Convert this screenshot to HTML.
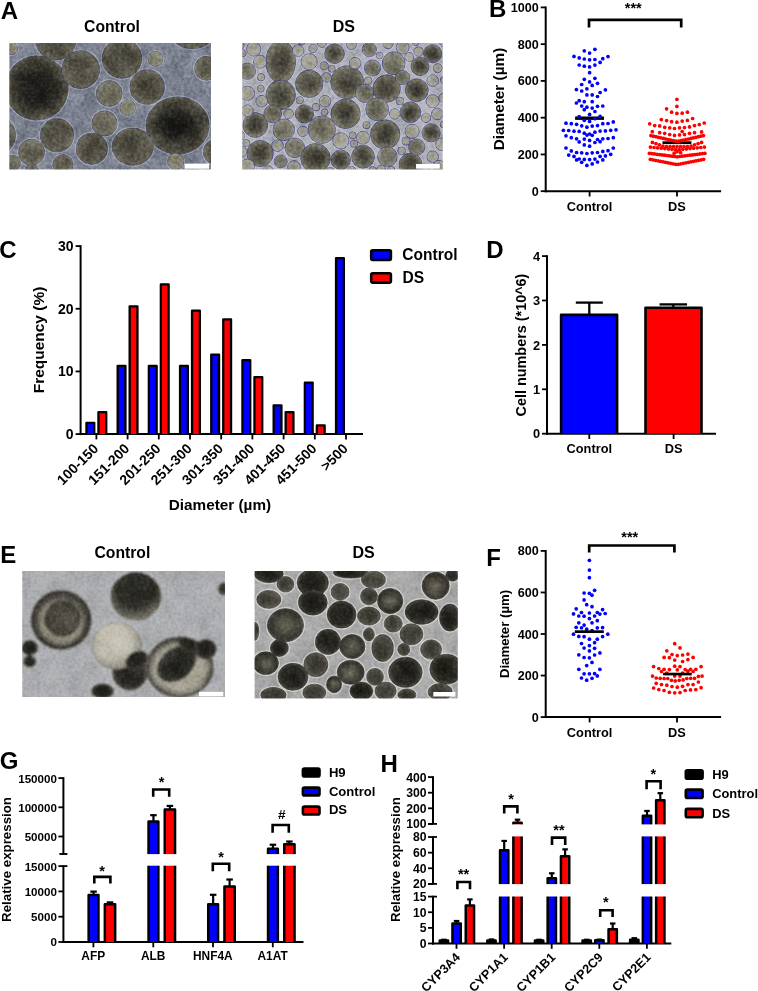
<!DOCTYPE html>
<html lang="en"><head><meta charset="utf-8"><title>Figure</title>
<style>
html,body{margin:0;padding:0;background:#fff;}
body{width:758px;height:991px;overflow:hidden;}
svg{display:block;}
text{font-family:"Liberation Sans",sans-serif;font-weight:bold;fill:#000;}
</style></head><body>
<svg width="758" height="991" viewBox="0 0 758 991">
<defs>
<filter id="soft" x="-5%" y="-5%" width="110%" height="110%"><feGaussianBlur stdDeviation="0.55"/></filter>
<filter id="soft15" x="-5%" y="-5%" width="110%" height="110%"><feGaussianBlur stdDeviation="0.75"/></filter>
<filter id="soft2" x="-5%" y="-5%" width="110%" height="110%"><feGaussianBlur stdDeviation="0.9"/></filter>
<filter id="grainL" x="0" y="0" width="100%" height="100%" color-interpolation-filters="sRGB"><feTurbulence type="fractalNoise" baseFrequency="0.32" numOctaves="3" seed="3"/><feColorMatrix type="matrix" values="1.5 0 0 0 -0.25  1.5 0 0 0 -0.25  1.5 0 0 0 -0.25  0 0 0 0 1"/></filter>
<filter id="blotch" x="0" y="0" width="100%" height="100%" color-interpolation-filters="sRGB"><feTurbulence type="fractalNoise" baseFrequency="0.06" numOctaves="2" seed="5"/><feColorMatrix type="matrix" values="1.6 0 0 0 -0.3  1.6 0 0 0 -0.3  1.6 0 0 0 -0.3  0 0 0 0 1"/></filter>
<clipPath id="cpa1"><rect x="9.3" y="43.0" width="201.7" height="126.5"/></clipPath>
<radialGradient id="g0" cx="0.5" cy="0.5" r="0.5"><stop offset="0" stop-color="#1a1917"/><stop offset="0.5" stop-color="#24231f"/><stop offset="0.8" stop-color="#403e34"/><stop offset="1" stop-color="#5e5c4e"/></radialGradient>
<radialGradient id="g1" cx="0.5" cy="0.5" r="0.5"><stop offset="0" stop-color="#45433a"/><stop offset="0.6" stop-color="#525043"/><stop offset="1" stop-color="#676557"/></radialGradient>
<radialGradient id="g2" cx="0.5" cy="0.5" r="0.5"><stop offset="0" stop-color="#5f5d4f"/><stop offset="0.7" stop-color="#6a6859"/><stop offset="1" stop-color="#7c7a6c"/></radialGradient>
<radialGradient id="g3" cx="0.5" cy="0.5" r="0.5"><stop offset="0" stop-color="#838170"/><stop offset="0.7" stop-color="#8b8977"/><stop offset="1" stop-color="#979585"/></radialGradient>
<clipPath id="cpa2"><rect x="242.2" y="43.0" width="200.6" height="126.5"/></clipPath>
<radialGradient id="g4" cx="0.5" cy="0.5" r="0.5"><stop offset="0" stop-color="#383630"/><stop offset="0.5" stop-color="#504e42"/><stop offset="1" stop-color="#807e6c"/></radialGradient>
<radialGradient id="g5" cx="0.5" cy="0.5" r="0.5"><stop offset="0" stop-color="#686657"/><stop offset="0.7" stop-color="#7a7869"/><stop offset="1" stop-color="#939181"/></radialGradient>
<radialGradient id="g6" cx="0.5" cy="0.5" r="0.5"><stop offset="0" stop-color="#9a998a"/><stop offset="0.7" stop-color="#a3a295"/><stop offset="1" stop-color="#aeada2"/></radialGradient>
<clipPath id="cpe1"><rect x="22.2" y="571.0" width="202.8" height="126.1"/></clipPath>
<radialGradient id="g7" cx="0.5" cy="0.34" r="0.7"><stop offset="0" stop-color="#24231f"/><stop offset="0.55" stop-color="#302f29"/><stop offset="0.8" stop-color="#67645a"/><stop offset="1" stop-color="#8c897d"/></radialGradient>
<radialGradient id="g8" cx="0.5" cy="0.5" r="0.5"><stop offset="0" stop-color="#4a483e"/><stop offset="0.75" stop-color="#55534a"/><stop offset="0.93" stop-color="#3a3832"/><stop offset="1" stop-color="#514f46"/></radialGradient>
<radialGradient id="g9" cx="0.5" cy="0.5" r="0.5"><stop offset="0" stop-color="#8d8a7a"/><stop offset="0.85" stop-color="#8a8778"/><stop offset="1" stop-color="#5e5b52"/></radialGradient>
<radialGradient id="g10" cx="0.5" cy="0.5" r="0.5"><stop offset="0" stop-color="#5c5a4e"/><stop offset="0.5" stop-color="#4b493f"/><stop offset="0.9" stop-color="#403e36"/><stop offset="1" stop-color="#4c4a41"/></radialGradient>
<radialGradient id="g11" cx="0.5" cy="0.5" r="0.5"><stop offset="0" stop-color="#1d1c19"/><stop offset="0.7" stop-color="#2a2924"/><stop offset="1" stop-color="#4c4a42"/></radialGradient>
<radialGradient id="g12" cx="0.45" cy="0.42" r="0.6"><stop offset="0" stop-color="#ccc9bc"/><stop offset="0.6" stop-color="#bebbad"/><stop offset="0.9" stop-color="#928f85"/><stop offset="1" stop-color="#74716a"/></radialGradient>
<radialGradient id="g13" cx="0.5" cy="0.5" r="0.5"><stop offset="0" stop-color="#1f1e1b"/><stop offset="0.75" stop-color="#2c2b26"/><stop offset="1" stop-color="#45433b"/></radialGradient>
<radialGradient id="g14" cx="0.5" cy="0.5" r="0.5"><stop offset="0" stop-color="#3a3832"/><stop offset="0.8" stop-color="#413f38"/><stop offset="1" stop-color="#5a584f"/></radialGradient>
<radialGradient id="g15" cx="0.5" cy="0.5" r="0.5"><stop offset="0" stop-color="#b3b0a1"/><stop offset="0.8" stop-color="#a3a092"/><stop offset="1" stop-color="#706d64"/></radialGradient>
<radialGradient id="g16" cx="0.5" cy="0.5" r="0.5"><stop offset="0" stop-color="#26251f"/><stop offset="0.6" stop-color="#38362e"/><stop offset="0.9" stop-color="#5b584d"/><stop offset="1" stop-color="#6d6a5f"/></radialGradient>
<clipPath id="cpe2"><rect x="254.5" y="571.0" width="203.3" height="127.5"/></clipPath>
<radialGradient id="g17" cx="0.5" cy="0.5" r="0.5"><stop offset="0" stop-color="#1b1a17"/><stop offset="0.75" stop-color="#2a2923"/><stop offset="1" stop-color="#48463d"/></radialGradient>
<radialGradient id="g18" cx="0.5" cy="0.5" r="0.5"><stop offset="0" stop-color="#36342e"/><stop offset="0.7" stop-color="#45433a"/><stop offset="1" stop-color="#605d53"/></radialGradient>
<radialGradient id="g19" cx="0.5" cy="0.5" r="0.5"><stop offset="0" stop-color="#6c6959"/><stop offset="0.4" stop-color="#525044"/><stop offset="0.85" stop-color="#38362f"/><stop offset="1" stop-color="#4a4840"/></radialGradient>
</defs>
<rect width="758" height="991" fill="#fff"/>
<text x="0.80" y="18.60" font-size="24" >A</text>
<text x="489.00" y="17.00" font-size="24" >B</text>
<text x="-0.70" y="258.10" font-size="24" >C</text>
<text x="486.20" y="258.30" font-size="24" >D</text>
<text x="0.25" y="562.90" font-size="24" >E</text>
<text x="486.20" y="565.50" font-size="24" >F</text>
<text x="-0.20" y="769.20" font-size="24" >G</text>
<text x="380.50" y="771.50" font-size="24" >H</text>
<line x1="545.70" y1="6.50" x2="545.70" y2="192.20" stroke="#000" stroke-width="2" stroke-linecap="butt"/>
<line x1="544.70" y1="191.20" x2="721.10" y2="191.20" stroke="#000" stroke-width="2" stroke-linecap="butt"/>
<line x1="540.70" y1="191.20" x2="545.70" y2="191.20" stroke="#000" stroke-width="1.8" stroke-linecap="butt"/>
<text x="538.70" y="195.70" font-size="12.6" text-anchor="end" >0</text>
<line x1="540.70" y1="154.44" x2="545.70" y2="154.44" stroke="#000" stroke-width="1.8" stroke-linecap="butt"/>
<text x="538.70" y="158.94" font-size="12.6" text-anchor="end" >200</text>
<line x1="540.70" y1="117.68" x2="545.70" y2="117.68" stroke="#000" stroke-width="1.8" stroke-linecap="butt"/>
<text x="538.70" y="122.18" font-size="12.6" text-anchor="end" >400</text>
<line x1="540.70" y1="80.92" x2="545.70" y2="80.92" stroke="#000" stroke-width="1.8" stroke-linecap="butt"/>
<text x="538.70" y="85.42" font-size="12.6" text-anchor="end" >600</text>
<line x1="540.70" y1="44.16" x2="545.70" y2="44.16" stroke="#000" stroke-width="1.8" stroke-linecap="butt"/>
<text x="538.70" y="48.66" font-size="12.6" text-anchor="end" >800</text>
<line x1="540.70" y1="7.40" x2="545.70" y2="7.40" stroke="#000" stroke-width="1.8" stroke-linecap="butt"/>
<text x="538.70" y="11.90" font-size="12.6" text-anchor="end" >1000</text>
<line x1="589.60" y1="191.20" x2="589.60" y2="196.50" stroke="#000" stroke-width="1.8" stroke-linecap="butt"/>
<text x="589.60" y="211.20" font-size="12.8" text-anchor="middle" >Control</text>
<line x1="677.00" y1="191.20" x2="677.00" y2="196.50" stroke="#000" stroke-width="1.8" stroke-linecap="butt"/>
<text x="677.00" y="211.20" font-size="12.8" text-anchor="middle" >DS</text>
<text x="503.80" y="99.00" font-size="14.4" text-anchor="middle" textLength="102.50" lengthAdjust="spacingAndGlyphs" transform="rotate(-90 503.80 99.00)" >Diameter (µm)</text>
<path d="M589.00 27.40V19.80H681.20V27.40" fill="none" stroke="#000" stroke-width="2.7" stroke-linejoin="miter"/>
<text x="633.30" y="12.90" font-size="14.5" text-anchor="middle" >***</text>
<rect x="575.10" y="116.50" width="28.90" height="3.40" fill="#000"/>
<rect x="662.50" y="141.30" width="28.90" height="2.80" fill="#000"/>
<g fill="#0000ff"><circle cx="584.3" cy="50.8" r="1.85"/><circle cx="594.9" cy="49.3" r="1.85"/><circle cx="589.6" cy="53.1" r="1.85"/><circle cx="574.0" cy="56.4" r="1.85"/><circle cx="579.2" cy="57.9" r="1.85"/><circle cx="584.3" cy="59.0" r="1.85"/><circle cx="589.6" cy="59.8" r="1.85"/><circle cx="594.9" cy="59.5" r="1.85"/><circle cx="602.8" cy="58.7" r="1.85"/><circle cx="608.0" cy="56.6" r="1.85"/><circle cx="600.1" cy="62.4" r="1.85"/><circle cx="579.2" cy="65.0" r="1.85"/><circle cx="584.3" cy="66.2" r="1.85"/><circle cx="589.6" cy="66.9" r="1.85"/><circle cx="594.9" cy="65.1" r="1.85"/><circle cx="589.6" cy="72.7" r="1.85"/><circle cx="584.3" cy="79.3" r="1.85"/><circle cx="594.9" cy="78.3" r="1.85"/><circle cx="589.6" cy="81.9" r="1.85"/><circle cx="597.5" cy="83.3" r="1.85"/><circle cx="581.7" cy="84.5" r="1.85"/><circle cx="592.2" cy="85.4" r="1.85"/><circle cx="586.9" cy="88.8" r="1.85"/><circle cx="576.4" cy="89.6" r="1.85"/><circle cx="581.7" cy="91.0" r="1.85"/><circle cx="605.4" cy="89.8" r="1.85"/><circle cx="600.1" cy="92.5" r="1.85"/><circle cx="586.9" cy="94.9" r="1.85"/><circle cx="592.2" cy="94.9" r="1.85"/><circle cx="597.5" cy="96.5" r="1.85"/><circle cx="579.2" cy="100.7" r="1.85"/><circle cx="576.4" cy="103.0" r="1.85"/><circle cx="584.3" cy="101.7" r="1.85"/><circle cx="592.2" cy="101.7" r="1.85"/><circle cx="581.7" cy="106.0" r="1.85"/><circle cx="586.9" cy="107.2" r="1.85"/><circle cx="592.2" cy="108.1" r="1.85"/><circle cx="597.5" cy="106.3" r="1.85"/><circle cx="602.8" cy="106.0" r="1.85"/><circle cx="584.3" cy="109.7" r="1.85"/><circle cx="594.9" cy="111.5" r="1.85"/><circle cx="589.6" cy="114.4" r="1.85"/><circle cx="579.2" cy="116.6" r="1.85"/><circle cx="600.1" cy="116.4" r="1.85"/><circle cx="594.9" cy="118.7" r="1.85"/><circle cx="584.3" cy="120.3" r="1.85"/><circle cx="589.6" cy="121.4" r="1.85"/><circle cx="566.0" cy="123.2" r="1.85"/><circle cx="571.3" cy="123.7" r="1.85"/><circle cx="576.6" cy="124.3" r="1.85"/><circle cx="581.7" cy="125.8" r="1.85"/><circle cx="586.9" cy="127.2" r="1.85"/><circle cx="592.2" cy="126.1" r="1.85"/><circle cx="597.5" cy="125.6" r="1.85"/><circle cx="602.8" cy="123.7" r="1.85"/><circle cx="608.0" cy="123.5" r="1.85"/><circle cx="613.3" cy="121.9" r="1.85"/><circle cx="563.4" cy="130.3" r="1.85"/><circle cx="568.7" cy="130.5" r="1.85"/><circle cx="574.0" cy="131.2" r="1.85"/><circle cx="579.2" cy="131.4" r="1.85"/><circle cx="584.3" cy="133.2" r="1.85"/><circle cx="586.9" cy="135.1" r="1.85"/><circle cx="589.6" cy="134.0" r="1.85"/><circle cx="592.2" cy="135.3" r="1.85"/><circle cx="594.9" cy="132.2" r="1.85"/><circle cx="600.1" cy="131.1" r="1.85"/><circle cx="605.4" cy="130.9" r="1.85"/><circle cx="610.7" cy="130.3" r="1.85"/><circle cx="616.0" cy="129.8" r="1.85"/><circle cx="566.0" cy="135.8" r="1.85"/><circle cx="571.3" cy="137.7" r="1.85"/><circle cx="576.6" cy="138.8" r="1.85"/><circle cx="579.2" cy="141.9" r="1.85"/><circle cx="584.3" cy="139.1" r="1.85"/><circle cx="589.6" cy="140.4" r="1.85"/><circle cx="594.9" cy="142.5" r="1.85"/><circle cx="597.5" cy="139.5" r="1.85"/><circle cx="600.1" cy="141.7" r="1.85"/><circle cx="602.8" cy="138.8" r="1.85"/><circle cx="608.0" cy="138.5" r="1.85"/><circle cx="613.3" cy="137.7" r="1.85"/><circle cx="584.3" cy="144.9" r="1.85"/><circle cx="589.6" cy="146.2" r="1.85"/><circle cx="566.0" cy="148.0" r="1.85"/><circle cx="613.3" cy="148.0" r="1.85"/><circle cx="571.3" cy="150.9" r="1.85"/><circle cx="576.6" cy="152.5" r="1.85"/><circle cx="581.7" cy="152.8" r="1.85"/><circle cx="586.9" cy="153.5" r="1.85"/><circle cx="592.2" cy="152.8" r="1.85"/><circle cx="597.5" cy="152.5" r="1.85"/><circle cx="602.8" cy="151.4" r="1.85"/><circle cx="608.0" cy="150.7" r="1.85"/><circle cx="568.7" cy="155.1" r="1.85"/><circle cx="574.0" cy="156.4" r="1.85"/><circle cx="610.7" cy="154.3" r="1.85"/><circle cx="605.4" cy="155.9" r="1.85"/><circle cx="600.1" cy="156.4" r="1.85"/><circle cx="576.6" cy="159.9" r="1.85"/><circle cx="579.2" cy="159.0" r="1.85"/><circle cx="584.3" cy="159.4" r="1.85"/><circle cx="589.6" cy="159.6" r="1.85"/><circle cx="594.9" cy="159.1" r="1.85"/><circle cx="602.8" cy="159.9" r="1.85"/><circle cx="581.7" cy="162.3" r="1.85"/><circle cx="597.5" cy="162.0" r="1.85"/><circle cx="592.2" cy="163.9" r="1.85"/><circle cx="586.9" cy="165.4" r="1.85"/></g>
<g fill="#ff0000"><circle cx="676.9" cy="99.3" r="1.85"/><circle cx="676.9" cy="106.4" r="1.85"/><circle cx="666.6" cy="108.8" r="1.85"/><circle cx="671.6" cy="112.2" r="1.85"/><circle cx="676.9" cy="113.4" r="1.85"/><circle cx="682.2" cy="113.2" r="1.85"/><circle cx="687.4" cy="112.2" r="1.85"/><circle cx="661.3" cy="119.6" r="1.85"/><circle cx="666.6" cy="120.6" r="1.85"/><circle cx="671.6" cy="121.7" r="1.85"/><circle cx="676.9" cy="122.2" r="1.85"/><circle cx="682.2" cy="121.1" r="1.85"/><circle cx="687.4" cy="120.4" r="1.85"/><circle cx="692.6" cy="118.5" r="1.85"/><circle cx="649.7" cy="123.8" r="1.85"/><circle cx="654.7" cy="125.6" r="1.85"/><circle cx="659.7" cy="125.9" r="1.85"/><circle cx="664.7" cy="127.3" r="1.85"/><circle cx="669.7" cy="127.8" r="1.85"/><circle cx="674.5" cy="128.5" r="1.85"/><circle cx="679.5" cy="127.8" r="1.85"/><circle cx="684.5" cy="127.5" r="1.85"/><circle cx="689.5" cy="126.9" r="1.85"/><circle cx="694.5" cy="125.6" r="1.85"/><circle cx="699.3" cy="124.6" r="1.85"/><circle cx="704.2" cy="123.0" r="1.85"/><circle cx="652.3" cy="131.7" r="1.85"/><circle cx="659.7" cy="132.7" r="1.85"/><circle cx="664.7" cy="133.3" r="1.85"/><circle cx="669.7" cy="134.6" r="1.85"/><circle cx="674.5" cy="135.4" r="1.85"/><circle cx="679.5" cy="134.9" r="1.85"/><circle cx="682.2" cy="131.5" r="1.85"/><circle cx="684.5" cy="134.6" r="1.85"/><circle cx="689.5" cy="133.3" r="1.85"/><circle cx="694.5" cy="132.7" r="1.85"/><circle cx="701.6" cy="131.9" r="1.85"/><circle cx="674.2" cy="153.2" r="1.85"/><circle cx="677.1" cy="151.7" r="1.85"/><circle cx="680.6" cy="152.7" r="1.85"/><circle cx="650.9" cy="135.6" r="1.85"/><circle cx="653.4" cy="136.2" r="1.85"/><circle cx="655.9" cy="136.7" r="1.85"/><circle cx="658.4" cy="137.3" r="1.85"/><circle cx="660.9" cy="137.8" r="1.85"/><circle cx="663.4" cy="138.4" r="1.85"/><circle cx="665.9" cy="139.0" r="1.85"/><circle cx="668.4" cy="139.5" r="1.85"/><circle cx="670.9" cy="140.1" r="1.85"/><circle cx="673.4" cy="140.7" r="1.85"/><circle cx="675.9" cy="141.2" r="1.85"/><circle cx="678.4" cy="141.2" r="1.85"/><circle cx="680.9" cy="140.7" r="1.85"/><circle cx="683.4" cy="140.1" r="1.85"/><circle cx="685.9" cy="139.5" r="1.85"/><circle cx="688.4" cy="139.0" r="1.85"/><circle cx="690.9" cy="138.4" r="1.85"/><circle cx="693.4" cy="137.8" r="1.85"/><circle cx="695.9" cy="137.3" r="1.85"/><circle cx="698.4" cy="136.7" r="1.85"/><circle cx="700.9" cy="136.2" r="1.85"/><circle cx="703.4" cy="135.6" r="1.85"/><circle cx="652.4" cy="142.4" r="1.85"/><circle cx="655.9" cy="143.6" r="1.85"/><circle cx="659.4" cy="144.8" r="1.85"/><circle cx="662.9" cy="146.0" r="1.85"/><circle cx="666.5" cy="146.6" r="1.85"/><circle cx="670.0" cy="146.6" r="1.85"/><circle cx="673.5" cy="146.6" r="1.85"/><circle cx="677.0" cy="146.6" r="1.85"/><circle cx="680.5" cy="146.6" r="1.85"/><circle cx="684.0" cy="146.6" r="1.85"/><circle cx="687.5" cy="146.6" r="1.85"/><circle cx="691.1" cy="146.0" r="1.85"/><circle cx="694.6" cy="144.8" r="1.85"/><circle cx="698.1" cy="143.6" r="1.85"/><circle cx="701.6" cy="142.4" r="1.85"/><circle cx="650.4" cy="147.1" r="1.85"/><circle cx="654.0" cy="147.5" r="1.85"/><circle cx="657.6" cy="147.8" r="1.85"/><circle cx="661.2" cy="148.2" r="1.85"/><circle cx="664.8" cy="148.6" r="1.85"/><circle cx="668.4" cy="149.0" r="1.85"/><circle cx="672.0" cy="149.3" r="1.85"/><circle cx="675.6" cy="149.7" r="1.85"/><circle cx="679.2" cy="149.7" r="1.85"/><circle cx="682.8" cy="149.3" r="1.85"/><circle cx="686.4" cy="149.0" r="1.85"/><circle cx="690.0" cy="148.6" r="1.85"/><circle cx="693.6" cy="148.2" r="1.85"/><circle cx="697.2" cy="147.8" r="1.85"/><circle cx="700.8" cy="147.5" r="1.85"/><circle cx="704.4" cy="147.1" r="1.85"/><circle cx="649.4" cy="153.3" r="1.85"/><circle cx="651.9" cy="153.6" r="1.85"/><circle cx="654.4" cy="153.9" r="1.85"/><circle cx="657.0" cy="154.3" r="1.85"/><circle cx="659.5" cy="154.6" r="1.85"/><circle cx="662.0" cy="154.9" r="1.85"/><circle cx="664.5" cy="155.2" r="1.85"/><circle cx="667.1" cy="155.5" r="1.85"/><circle cx="669.6" cy="155.8" r="1.85"/><circle cx="672.1" cy="156.2" r="1.85"/><circle cx="674.6" cy="156.5" r="1.85"/><circle cx="677.1" cy="156.8" r="1.85"/><circle cx="679.7" cy="156.5" r="1.85"/><circle cx="682.2" cy="156.2" r="1.85"/><circle cx="684.7" cy="155.8" r="1.85"/><circle cx="687.2" cy="155.5" r="1.85"/><circle cx="689.8" cy="155.2" r="1.85"/><circle cx="692.3" cy="154.9" r="1.85"/><circle cx="694.8" cy="154.6" r="1.85"/><circle cx="697.3" cy="154.3" r="1.85"/><circle cx="699.9" cy="153.9" r="1.85"/><circle cx="702.4" cy="153.6" r="1.85"/><circle cx="704.9" cy="153.3" r="1.85"/><circle cx="650.4" cy="159.3" r="1.85"/><circle cx="652.9" cy="159.8" r="1.85"/><circle cx="655.5" cy="160.3" r="1.85"/><circle cx="658.0" cy="160.8" r="1.85"/><circle cx="660.5" cy="161.3" r="1.85"/><circle cx="663.1" cy="161.8" r="1.85"/><circle cx="665.6" cy="162.3" r="1.85"/><circle cx="668.1" cy="162.8" r="1.85"/><circle cx="670.7" cy="163.3" r="1.85"/><circle cx="673.2" cy="163.8" r="1.85"/><circle cx="675.7" cy="164.3" r="1.85"/><circle cx="678.3" cy="164.3" r="1.85"/><circle cx="680.8" cy="163.8" r="1.85"/><circle cx="683.3" cy="163.3" r="1.85"/><circle cx="685.9" cy="162.8" r="1.85"/><circle cx="688.4" cy="162.3" r="1.85"/><circle cx="690.9" cy="161.8" r="1.85"/><circle cx="693.5" cy="161.3" r="1.85"/><circle cx="696.0" cy="160.8" r="1.85"/><circle cx="698.5" cy="160.3" r="1.85"/><circle cx="701.1" cy="159.8" r="1.85"/><circle cx="703.6" cy="159.3" r="1.85"/></g>
<line x1="80.60" y1="245.20" x2="80.60" y2="435.10" stroke="#000" stroke-width="2" stroke-linecap="butt"/>
<line x1="79.60" y1="434.10" x2="363.00" y2="434.10" stroke="#000" stroke-width="2" stroke-linecap="butt"/>
<line x1="75.60" y1="434.10" x2="80.60" y2="434.10" stroke="#000" stroke-width="1.8" stroke-linecap="butt"/>
<text x="73.60" y="439.10" font-size="14" text-anchor="end" >0</text>
<line x1="75.60" y1="371.43" x2="80.60" y2="371.43" stroke="#000" stroke-width="1.8" stroke-linecap="butt"/>
<text x="73.60" y="376.43" font-size="14" text-anchor="end" >10</text>
<line x1="75.60" y1="308.76" x2="80.60" y2="308.76" stroke="#000" stroke-width="1.8" stroke-linecap="butt"/>
<text x="73.60" y="313.76" font-size="14" text-anchor="end" >20</text>
<line x1="75.60" y1="246.09" x2="80.60" y2="246.09" stroke="#000" stroke-width="1.8" stroke-linecap="butt"/>
<text x="73.60" y="251.09" font-size="14" text-anchor="end" >30</text>
<line x1="96.40" y1="434.10" x2="96.40" y2="439.40" stroke="#000" stroke-width="1.8" stroke-linecap="butt"/>
<path d="M86.45 434.10V422.87H94.25V434.10" fill="#0000ff" stroke="#000" stroke-width="2.3" stroke-linejoin="round"/>
<path d="M98.45 434.10V412.22H106.25V434.10" fill="#ff0000" stroke="#000" stroke-width="2.3" stroke-linejoin="round"/>
<text x="99.20" y="449.40" font-size="14" text-anchor="end" transform="rotate(-45 99.20 449.40)" >100-150</text>
<line x1="127.60" y1="434.10" x2="127.60" y2="439.40" stroke="#000" stroke-width="1.8" stroke-linecap="butt"/>
<path d="M117.65 434.10V365.84H125.45V434.10" fill="#0000ff" stroke="#000" stroke-width="2.3" stroke-linejoin="round"/>
<path d="M129.65 434.10V306.30H137.45V434.10" fill="#ff0000" stroke="#000" stroke-width="2.3" stroke-linejoin="round"/>
<text x="130.40" y="449.40" font-size="14" text-anchor="end" transform="rotate(-45 130.40 449.40)" >151-200</text>
<line x1="158.80" y1="434.10" x2="158.80" y2="439.40" stroke="#000" stroke-width="1.8" stroke-linecap="butt"/>
<path d="M148.85 434.10V365.84H156.65V434.10" fill="#0000ff" stroke="#000" stroke-width="2.3" stroke-linejoin="round"/>
<path d="M160.85 434.10V284.37H168.65V434.10" fill="#ff0000" stroke="#000" stroke-width="2.3" stroke-linejoin="round"/>
<text x="161.60" y="449.40" font-size="14" text-anchor="end" transform="rotate(-45 161.60 449.40)" >201-250</text>
<line x1="190.00" y1="434.10" x2="190.00" y2="439.40" stroke="#000" stroke-width="1.8" stroke-linecap="butt"/>
<path d="M180.05 434.10V365.84H187.85V434.10" fill="#0000ff" stroke="#000" stroke-width="2.3" stroke-linejoin="round"/>
<path d="M192.05 434.10V310.69H199.85V434.10" fill="#ff0000" stroke="#000" stroke-width="2.3" stroke-linejoin="round"/>
<text x="192.80" y="449.40" font-size="14" text-anchor="end" transform="rotate(-45 192.80 449.40)" >251-300</text>
<line x1="221.20" y1="434.10" x2="221.20" y2="439.40" stroke="#000" stroke-width="1.8" stroke-linecap="butt"/>
<path d="M211.25 434.10V354.56H219.05V434.10" fill="#0000ff" stroke="#000" stroke-width="2.3" stroke-linejoin="round"/>
<path d="M223.25 434.10V319.46H231.05V434.10" fill="#ff0000" stroke="#000" stroke-width="2.3" stroke-linejoin="round"/>
<text x="224.00" y="449.40" font-size="14" text-anchor="end" transform="rotate(-45 224.00 449.40)" >301-350</text>
<line x1="252.40" y1="434.10" x2="252.40" y2="439.40" stroke="#000" stroke-width="1.8" stroke-linecap="butt"/>
<path d="M242.45 434.10V360.20H250.25V434.10" fill="#0000ff" stroke="#000" stroke-width="2.3" stroke-linejoin="round"/>
<path d="M254.45 434.10V377.12H262.25V434.10" fill="#ff0000" stroke="#000" stroke-width="2.3" stroke-linejoin="round"/>
<text x="255.20" y="449.40" font-size="14" text-anchor="end" transform="rotate(-45 255.20 449.40)" >351-400</text>
<line x1="283.60" y1="434.10" x2="283.60" y2="439.40" stroke="#000" stroke-width="1.8" stroke-linecap="butt"/>
<path d="M273.65 434.10V405.32H281.45V434.10" fill="#0000ff" stroke="#000" stroke-width="2.3" stroke-linejoin="round"/>
<path d="M285.65 434.10V412.22H293.45V434.10" fill="#ff0000" stroke="#000" stroke-width="2.3" stroke-linejoin="round"/>
<text x="286.40" y="449.40" font-size="14" text-anchor="end" transform="rotate(-45 286.40 449.40)" >401-450</text>
<line x1="314.80" y1="434.10" x2="314.80" y2="439.40" stroke="#000" stroke-width="1.8" stroke-linecap="butt"/>
<path d="M304.85 434.10V382.76H312.65V434.10" fill="#0000ff" stroke="#000" stroke-width="2.3" stroke-linejoin="round"/>
<path d="M316.85 434.10V425.38H324.65V434.10" fill="#ff0000" stroke="#000" stroke-width="2.3" stroke-linejoin="round"/>
<text x="317.60" y="449.40" font-size="14" text-anchor="end" transform="rotate(-45 317.60 449.40)" >451-500</text>
<line x1="346.00" y1="434.10" x2="346.00" y2="439.40" stroke="#000" stroke-width="1.8" stroke-linecap="butt"/>
<path d="M336.05 434.10V258.05H343.85V434.10" fill="#0000ff" stroke="#000" stroke-width="2.3" stroke-linejoin="round"/>
<text x="348.80" y="449.40" font-size="14" text-anchor="end" transform="rotate(-45 348.80 449.40)" >&gt;500</text>
<text x="44.30" y="340.00" font-size="14.8" text-anchor="middle" textLength="106.60" lengthAdjust="spacingAndGlyphs" transform="rotate(-90 44.30 340.00)" >Frequency (%)</text>
<text x="168.80" y="510.10" font-size="14.4" textLength="102.30" lengthAdjust="spacingAndGlyphs" >Diameter (µm)</text>
<rect x="371.20" y="250.30" width="19.70" height="9.70" fill="#0000ff" stroke="#000" stroke-width="2.6" rx="1.5"/>
<rect x="371.20" y="273.30" width="19.70" height="9.30" fill="#ff0000" stroke="#000" stroke-width="2.6" rx="1.5"/>
<text x="402.30" y="260.30" font-size="15.6" textLength="55.20" lengthAdjust="spacingAndGlyphs" >Control</text>
<text x="402.50" y="282.80" font-size="15.6" >DS</text>
<line x1="547.00" y1="255.20" x2="547.00" y2="434.70" stroke="#000" stroke-width="2" stroke-linecap="butt"/>
<line x1="546.00" y1="433.70" x2="716.00" y2="433.70" stroke="#000" stroke-width="2" stroke-linecap="butt"/>
<line x1="542.00" y1="433.70" x2="547.00" y2="433.70" stroke="#000" stroke-width="1.8" stroke-linecap="butt"/>
<text x="540.00" y="438.30" font-size="12.8" text-anchor="end" >0</text>
<line x1="542.00" y1="389.30" x2="547.00" y2="389.30" stroke="#000" stroke-width="1.8" stroke-linecap="butt"/>
<text x="540.00" y="393.90" font-size="12.8" text-anchor="end" >1</text>
<line x1="542.00" y1="344.90" x2="547.00" y2="344.90" stroke="#000" stroke-width="1.8" stroke-linecap="butt"/>
<text x="540.00" y="349.50" font-size="12.8" text-anchor="end" >2</text>
<line x1="542.00" y1="300.50" x2="547.00" y2="300.50" stroke="#000" stroke-width="1.8" stroke-linecap="butt"/>
<text x="540.00" y="305.10" font-size="12.8" text-anchor="end" >3</text>
<line x1="542.00" y1="256.10" x2="547.00" y2="256.10" stroke="#000" stroke-width="1.8" stroke-linecap="butt"/>
<text x="540.00" y="260.70" font-size="12.8" text-anchor="end" >4</text>
<line x1="589.30" y1="302.60" x2="589.30" y2="316.00" stroke="#000" stroke-width="2.3" stroke-linecap="butt"/>
<line x1="575.80" y1="302.60" x2="602.80" y2="302.60" stroke="#000" stroke-width="2.3" stroke-linecap="butt"/>
<path d="M561.10 433.70V314.90H617.10V433.70" fill="#0000ff" stroke="#000" stroke-width="2.6" stroke-linejoin="round"/>
<line x1="673.30" y1="304.40" x2="673.30" y2="309.00" stroke="#000" stroke-width="2.3" stroke-linecap="butt"/>
<line x1="659.55" y1="304.40" x2="687.05" y2="304.40" stroke="#000" stroke-width="2.3" stroke-linecap="butt"/>
<path d="M645.50 433.70V307.70H701.50V433.70" fill="#ff0000" stroke="#000" stroke-width="2.6" stroke-linejoin="round"/>
<line x1="589.30" y1="433.70" x2="589.30" y2="439.00" stroke="#000" stroke-width="1.8" stroke-linecap="butt"/>
<text x="589.30" y="453.20" font-size="12.8" text-anchor="middle" >Control</text>
<line x1="673.60" y1="433.70" x2="673.60" y2="439.00" stroke="#000" stroke-width="1.8" stroke-linecap="butt"/>
<text x="673.60" y="453.20" font-size="12.8" text-anchor="middle" >DS</text>
<text x="525.80" y="345.00" font-size="14.4" text-anchor="middle" transform="rotate(-90 525.80 345.00)" >Cell numbers (*10^6)</text>
<line x1="545.70" y1="550.00" x2="545.70" y2="718.10" stroke="#000" stroke-width="2" stroke-linecap="butt"/>
<line x1="544.70" y1="717.10" x2="721.10" y2="717.10" stroke="#000" stroke-width="2" stroke-linecap="butt"/>
<line x1="540.70" y1="717.10" x2="545.70" y2="717.10" stroke="#000" stroke-width="1.8" stroke-linecap="butt"/>
<text x="538.70" y="721.60" font-size="12.6" text-anchor="end" >0</text>
<line x1="540.70" y1="675.55" x2="545.70" y2="675.55" stroke="#000" stroke-width="1.8" stroke-linecap="butt"/>
<text x="538.70" y="680.05" font-size="12.6" text-anchor="end" >200</text>
<line x1="540.70" y1="634.00" x2="545.70" y2="634.00" stroke="#000" stroke-width="1.8" stroke-linecap="butt"/>
<text x="538.70" y="638.50" font-size="12.6" text-anchor="end" >400</text>
<line x1="540.70" y1="592.45" x2="545.70" y2="592.45" stroke="#000" stroke-width="1.8" stroke-linecap="butt"/>
<text x="538.70" y="596.95" font-size="12.6" text-anchor="end" >600</text>
<line x1="540.70" y1="550.90" x2="545.70" y2="550.90" stroke="#000" stroke-width="1.8" stroke-linecap="butt"/>
<text x="538.70" y="555.40" font-size="12.6" text-anchor="end" >800</text>
<line x1="589.60" y1="717.10" x2="589.60" y2="722.40" stroke="#000" stroke-width="1.8" stroke-linecap="butt"/>
<text x="589.60" y="737.00" font-size="12.8" text-anchor="middle" >Control</text>
<line x1="677.00" y1="717.10" x2="677.00" y2="722.40" stroke="#000" stroke-width="1.8" stroke-linecap="butt"/>
<text x="677.00" y="737.00" font-size="12.8" text-anchor="middle" >DS</text>
<text x="508.50" y="634.00" font-size="13.2" text-anchor="middle" transform="rotate(-90 508.50 634.00)" >Diameter (µm)</text>
<path d="M589.20 552.40V545.50H674.40V552.40" fill="none" stroke="#000" stroke-width="2.7" stroke-linejoin="miter"/>
<text x="629.80" y="541.60" font-size="14.5" text-anchor="middle" >***</text>
<g fill="#0000ff"><circle cx="589.4" cy="560.3" r="1.85"/><circle cx="589.4" cy="570.1" r="1.85"/><circle cx="589.4" cy="577.7" r="1.85"/><circle cx="594.6" cy="590.3" r="1.85"/><circle cx="584.1" cy="593.0" r="1.85"/><circle cx="589.4" cy="593.3" r="1.85"/><circle cx="592.0" cy="595.2" r="1.85"/><circle cx="584.1" cy="599.9" r="1.85"/><circle cx="586.7" cy="604.7" r="1.85"/><circle cx="592.0" cy="606.7" r="1.85"/><circle cx="576.2" cy="608.8" r="1.85"/><circle cx="602.6" cy="609.6" r="1.85"/><circle cx="581.5" cy="612.5" r="1.85"/><circle cx="589.4" cy="613.0" r="1.85"/><circle cx="597.3" cy="612.5" r="1.85"/><circle cx="599.9" cy="614.1" r="1.85"/><circle cx="573.5" cy="613.9" r="1.85"/><circle cx="605.2" cy="613.5" r="1.85"/><circle cx="578.8" cy="616.0" r="1.85"/><circle cx="584.1" cy="616.2" r="1.85"/><circle cx="594.6" cy="616.0" r="1.85"/><circle cx="589.4" cy="618.6" r="1.85"/><circle cx="597.3" cy="620.7" r="1.85"/><circle cx="578.8" cy="622.8" r="1.85"/><circle cx="592.0" cy="622.8" r="1.85"/><circle cx="584.1" cy="625.1" r="1.85"/><circle cx="576.2" cy="627.3" r="1.85"/><circle cx="581.5" cy="627.8" r="1.85"/><circle cx="586.7" cy="629.2" r="1.85"/><circle cx="597.3" cy="627.8" r="1.85"/><circle cx="602.6" cy="627.6" r="1.85"/><circle cx="592.0" cy="630.6" r="1.85"/><circle cx="573.5" cy="634.2" r="1.85"/><circle cx="607.8" cy="634.2" r="1.85"/><circle cx="578.8" cy="636.4" r="1.85"/><circle cx="584.1" cy="636.7" r="1.85"/><circle cx="602.6" cy="636.6" r="1.85"/><circle cx="589.4" cy="639.2" r="1.85"/><circle cx="597.3" cy="639.2" r="1.85"/><circle cx="581.5" cy="643.5" r="1.85"/><circle cx="594.6" cy="642.7" r="1.85"/><circle cx="589.4" cy="645.6" r="1.85"/><circle cx="584.1" cy="648.0" r="1.85"/><circle cx="594.6" cy="648.3" r="1.85"/><circle cx="589.4" cy="650.9" r="1.85"/><circle cx="599.9" cy="652.9" r="1.85"/><circle cx="578.8" cy="654.8" r="1.85"/><circle cx="594.6" cy="655.0" r="1.85"/><circle cx="584.1" cy="657.5" r="1.85"/><circle cx="589.4" cy="657.8" r="1.85"/><circle cx="592.0" cy="662.4" r="1.85"/><circle cx="586.7" cy="665.6" r="1.85"/><circle cx="578.8" cy="669.3" r="1.85"/><circle cx="599.9" cy="669.3" r="1.85"/><circle cx="584.1" cy="673.8" r="1.85"/><circle cx="589.4" cy="673.8" r="1.85"/><circle cx="594.6" cy="673.6" r="1.85"/><circle cx="597.3" cy="675.9" r="1.85"/><circle cx="581.5" cy="678.0" r="1.85"/><circle cx="592.0" cy="678.3" r="1.85"/><circle cx="586.7" cy="680.2" r="1.85"/></g>
<g fill="#ff0000"><circle cx="674.7" cy="643.7" r="1.85"/><circle cx="680.0" cy="647.9" r="1.85"/><circle cx="666.8" cy="650.8" r="1.85"/><circle cx="672.0" cy="654.5" r="1.85"/><circle cx="677.3" cy="655.6" r="1.85"/><circle cx="682.6" cy="655.0" r="1.85"/><circle cx="687.9" cy="654.1" r="1.85"/><circle cx="664.1" cy="657.4" r="1.85"/><circle cx="669.4" cy="657.7" r="1.85"/><circle cx="693.1" cy="657.4" r="1.85"/><circle cx="674.7" cy="660.1" r="1.85"/><circle cx="682.6" cy="661.5" r="1.85"/><circle cx="687.9" cy="659.6" r="1.85"/><circle cx="653.6" cy="666.6" r="1.85"/><circle cx="701.1" cy="666.6" r="1.85"/><circle cx="674.7" cy="666.2" r="1.85"/><circle cx="680.0" cy="666.6" r="1.85"/><circle cx="658.8" cy="668.5" r="1.85"/><circle cx="664.1" cy="669.3" r="1.85"/><circle cx="669.4" cy="669.6" r="1.85"/><circle cx="677.3" cy="669.8" r="1.85"/><circle cx="685.2" cy="669.6" r="1.85"/><circle cx="690.5" cy="669.3" r="1.85"/><circle cx="695.8" cy="669.3" r="1.85"/><circle cx="661.5" cy="671.5" r="1.85"/><circle cx="666.8" cy="673.0" r="1.85"/><circle cx="687.9" cy="671.2" r="1.85"/><circle cx="693.1" cy="671.5" r="1.85"/><circle cx="682.6" cy="673.0" r="1.85"/><circle cx="652.5" cy="676.1" r="1.85"/><circle cx="702.1" cy="676.1" r="1.85"/><circle cx="698.4" cy="676.4" r="1.85"/><circle cx="656.2" cy="678.0" r="1.85"/><circle cx="660.2" cy="678.3" r="1.85"/><circle cx="664.1" cy="678.5" r="1.85"/><circle cx="667.8" cy="678.5" r="1.85"/><circle cx="671.5" cy="680.3" r="1.85"/><circle cx="675.2" cy="680.9" r="1.85"/><circle cx="679.2" cy="680.3" r="1.85"/><circle cx="683.1" cy="679.9" r="1.85"/><circle cx="686.8" cy="678.5" r="1.85"/><circle cx="690.7" cy="678.3" r="1.85"/><circle cx="694.5" cy="678.3" r="1.85"/><circle cx="674.7" cy="676.1" r="1.85"/><circle cx="680.0" cy="676.1" r="1.85"/><circle cx="656.2" cy="683.3" r="1.85"/><circle cx="661.5" cy="684.6" r="1.85"/><circle cx="666.8" cy="685.2" r="1.85"/><circle cx="672.0" cy="686.5" r="1.85"/><circle cx="677.3" cy="687.2" r="1.85"/><circle cx="682.6" cy="686.3" r="1.85"/><circle cx="687.9" cy="684.6" r="1.85"/><circle cx="693.1" cy="684.6" r="1.85"/><circle cx="698.4" cy="682.0" r="1.85"/><circle cx="653.6" cy="688.0" r="1.85"/><circle cx="658.8" cy="689.6" r="1.85"/><circle cx="664.1" cy="690.5" r="1.85"/><circle cx="669.4" cy="692.3" r="1.85"/><circle cx="674.7" cy="692.8" r="1.85"/><circle cx="680.0" cy="692.6" r="1.85"/><circle cx="685.2" cy="690.5" r="1.85"/><circle cx="690.5" cy="689.9" r="1.85"/><circle cx="695.8" cy="689.6" r="1.85"/><circle cx="701.1" cy="687.7" r="1.85"/></g>
<rect x="574.80" y="630.30" width="29.00" height="2.70" fill="#000"/>
<rect x="663.10" y="672.70" width="28.60" height="2.70" fill="#000"/>
<line x1="63.40" y1="777.20" x2="63.40" y2="854.00" stroke="#000" stroke-width="2" stroke-linecap="butt"/>
<line x1="63.40" y1="865.20" x2="63.40" y2="943.00" stroke="#000" stroke-width="2" stroke-linecap="butt"/>
<line x1="59.40" y1="854.00" x2="67.40" y2="854.00" stroke="#000" stroke-width="1.9" stroke-linecap="butt"/>
<line x1="63.40" y1="866.10" x2="67.40" y2="866.10" stroke="#000" stroke-width="1.8" stroke-linecap="butt"/>
<line x1="62.40" y1="942.00" x2="303.50" y2="942.00" stroke="#000" stroke-width="2" stroke-linecap="butt"/>
<line x1="58.40" y1="942.00" x2="63.40" y2="942.00" stroke="#000" stroke-width="1.8" stroke-linecap="butt"/>
<text x="56.90" y="946.40" font-size="11.6" text-anchor="end" >0</text>
<line x1="58.40" y1="916.70" x2="63.40" y2="916.70" stroke="#000" stroke-width="1.8" stroke-linecap="butt"/>
<text x="56.90" y="921.10" font-size="11.6" text-anchor="end" >5000</text>
<line x1="58.40" y1="891.40" x2="63.40" y2="891.40" stroke="#000" stroke-width="1.8" stroke-linecap="butt"/>
<text x="56.90" y="895.80" font-size="11.6" text-anchor="end" >10000</text>
<line x1="58.40" y1="866.10" x2="63.40" y2="866.10" stroke="#000" stroke-width="1.8" stroke-linecap="butt"/>
<text x="56.90" y="870.50" font-size="11.6" text-anchor="end" >15000</text>
<line x1="58.40" y1="836.50" x2="63.40" y2="836.50" stroke="#000" stroke-width="1.8" stroke-linecap="butt"/>
<text x="56.90" y="840.90" font-size="11.6" text-anchor="end" >50000</text>
<line x1="58.40" y1="807.30" x2="63.40" y2="807.30" stroke="#000" stroke-width="1.8" stroke-linecap="butt"/>
<text x="56.90" y="811.70" font-size="11.6" text-anchor="end" >100000</text>
<line x1="58.40" y1="778.10" x2="63.40" y2="778.10" stroke="#000" stroke-width="1.8" stroke-linecap="butt"/>
<text x="56.90" y="782.50" font-size="11.6" text-anchor="end" >150000</text>
<text x="10.80" y="859.50" font-size="13.3" text-anchor="middle" transform="rotate(-90 10.80 859.50)" >Relative expression</text>
<line x1="93.40" y1="942.00" x2="93.40" y2="947.30" stroke="#000" stroke-width="1.8" stroke-linecap="butt"/>
<line x1="93.55" y1="891.60" x2="93.55" y2="896.90" stroke="#000" stroke-width="2.2" stroke-linecap="butt"/>
<line x1="90.30" y1="891.60" x2="96.80" y2="891.60" stroke="#000" stroke-width="2.2" stroke-linecap="butt"/>
<path d="M88.65 942.00V894.95H98.45V942.00" fill="#0000ff" stroke="#000" stroke-width="2.5" stroke-linejoin="round"/>
<line x1="110.00" y1="902.38" x2="110.00" y2="906.20" stroke="#000" stroke-width="2.2" stroke-linecap="butt"/>
<line x1="106.75" y1="902.38" x2="113.25" y2="902.38" stroke="#000" stroke-width="2.2" stroke-linecap="butt"/>
<path d="M104.85 942.00V904.25H115.15V942.00" fill="#ff0000" stroke="#000" stroke-width="2.5" stroke-linejoin="round"/>
<text x="93.20" y="959.50" font-size="11.9" text-anchor="middle" >AFP</text>
<line x1="153.30" y1="942.00" x2="153.30" y2="947.30" stroke="#000" stroke-width="1.8" stroke-linecap="butt"/>
<line x1="153.45" y1="815.18" x2="153.45" y2="823.40" stroke="#000" stroke-width="2.2" stroke-linecap="butt"/>
<line x1="150.20" y1="815.18" x2="156.70" y2="815.18" stroke="#000" stroke-width="2.2" stroke-linecap="butt"/>
<path d="M148.55 942.00V821.45H158.35V942.00" fill="#0000ff" stroke="#000" stroke-width="2.5" stroke-linejoin="round"/>
<line x1="169.90" y1="805.90" x2="169.90" y2="811.40" stroke="#000" stroke-width="2.2" stroke-linecap="butt"/>
<line x1="166.65" y1="805.90" x2="173.15" y2="805.90" stroke="#000" stroke-width="2.2" stroke-linecap="butt"/>
<path d="M164.75 942.00V809.45H175.05V942.00" fill="#ff0000" stroke="#000" stroke-width="2.5" stroke-linejoin="round"/>
<text x="153.10" y="959.50" font-size="11.9" text-anchor="middle" >ALB</text>
<line x1="213.00" y1="942.00" x2="213.00" y2="947.30" stroke="#000" stroke-width="1.8" stroke-linecap="butt"/>
<line x1="213.15" y1="894.79" x2="213.15" y2="906.10" stroke="#000" stroke-width="2.2" stroke-linecap="butt"/>
<line x1="209.90" y1="894.79" x2="216.40" y2="894.79" stroke="#000" stroke-width="2.2" stroke-linecap="butt"/>
<path d="M208.25 942.00V904.15H218.05V942.00" fill="#0000ff" stroke="#000" stroke-width="2.5" stroke-linejoin="round"/>
<line x1="229.60" y1="879.51" x2="229.60" y2="888.39" stroke="#000" stroke-width="2.2" stroke-linecap="butt"/>
<line x1="226.35" y1="879.51" x2="232.85" y2="879.51" stroke="#000" stroke-width="2.2" stroke-linecap="butt"/>
<path d="M224.45 942.00V886.44H234.75V942.00" fill="#ff0000" stroke="#000" stroke-width="2.5" stroke-linejoin="round"/>
<text x="212.80" y="959.50" font-size="11.9" text-anchor="middle" >HNF4A</text>
<line x1="272.80" y1="942.00" x2="272.80" y2="947.30" stroke="#000" stroke-width="1.8" stroke-linecap="butt"/>
<line x1="272.95" y1="844.73" x2="272.95" y2="850.71" stroke="#000" stroke-width="2.2" stroke-linecap="butt"/>
<line x1="269.70" y1="844.73" x2="276.20" y2="844.73" stroke="#000" stroke-width="2.2" stroke-linecap="butt"/>
<path d="M268.05 942.00V848.76H277.85V942.00" fill="#0000ff" stroke="#000" stroke-width="2.5" stroke-linejoin="round"/>
<line x1="289.40" y1="841.52" x2="289.40" y2="846.21" stroke="#000" stroke-width="2.2" stroke-linecap="butt"/>
<line x1="286.15" y1="841.52" x2="292.65" y2="841.52" stroke="#000" stroke-width="2.2" stroke-linecap="butt"/>
<path d="M284.25 942.00V844.26H294.55V942.00" fill="#ff0000" stroke="#000" stroke-width="2.5" stroke-linejoin="round"/>
<text x="272.60" y="959.50" font-size="11.9" text-anchor="middle" >A1AT</text>
<rect x="70.00" y="854.10" width="240.00" height="11.60" fill="#fff"/>
<path d="M94.30 883.60V876.90H110.40V883.60" fill="none" stroke="#000" stroke-width="2.6" stroke-linejoin="miter"/>
<text x="102.20" y="875.80" font-size="14.5" text-anchor="middle" >*</text>
<path d="M153.20 796.70V789.50H169.20V796.70" fill="none" stroke="#000" stroke-width="2.6" stroke-linejoin="miter"/>
<text x="161.50" y="787.00" font-size="14.5" text-anchor="middle" >*</text>
<path d="M212.80 871.20V863.80H229.20V871.20" fill="none" stroke="#000" stroke-width="2.6" stroke-linejoin="miter"/>
<text x="221.00" y="862.20" font-size="14.5" text-anchor="middle" >*</text>
<path d="M272.60 832.80V825.00H288.80V832.80" fill="none" stroke="#000" stroke-width="2.6" stroke-linejoin="miter"/>
<text x="281.80" y="819.00" font-size="13.6" text-anchor="middle" >#</text>
<rect x="302.90" y="768.60" width="16.60" height="7.80" fill="#000" stroke="#000" stroke-width="2.6" rx="1.5"/>
<text x="328.90" y="776.80" font-size="13.1" >H9</text>
<rect x="302.90" y="787.60" width="16.60" height="7.80" fill="#0000ff" stroke="#000" stroke-width="2.6" rx="1.5"/>
<text x="328.90" y="795.50" font-size="13.1" >Control</text>
<rect x="302.90" y="806.60" width="16.60" height="7.80" fill="#ff0000" stroke="#000" stroke-width="2.6" rx="1.5"/>
<text x="328.90" y="814.20" font-size="13.1" >DS</text>
<line x1="433.00" y1="776.20" x2="433.00" y2="824.20" stroke="#000" stroke-width="2" stroke-linecap="butt"/>
<line x1="433.00" y1="836.20" x2="433.00" y2="884.20" stroke="#000" stroke-width="2" stroke-linecap="butt"/>
<line x1="433.00" y1="895.80" x2="433.00" y2="944.50" stroke="#000" stroke-width="2" stroke-linecap="butt"/>
<line x1="428.00" y1="823.90" x2="437.00" y2="823.90" stroke="#000" stroke-width="1.8" stroke-linecap="butt"/>
<line x1="428.00" y1="883.90" x2="437.00" y2="883.90" stroke="#000" stroke-width="1.8" stroke-linecap="butt"/>
<line x1="433.00" y1="837.01" x2="437.00" y2="837.01" stroke="#000" stroke-width="1.8" stroke-linecap="butt"/>
<line x1="433.00" y1="896.61" x2="437.00" y2="896.61" stroke="#000" stroke-width="1.8" stroke-linecap="butt"/>
<line x1="432.00" y1="943.50" x2="671.30" y2="943.50" stroke="#000" stroke-width="2" stroke-linecap="butt"/>
<line x1="428.00" y1="943.50" x2="433.00" y2="943.50" stroke="#000" stroke-width="1.8" stroke-linecap="butt"/>
<text x="426.50" y="947.90" font-size="12.2" text-anchor="end" >0</text>
<line x1="428.00" y1="927.87" x2="433.00" y2="927.87" stroke="#000" stroke-width="1.8" stroke-linecap="butt"/>
<text x="426.50" y="932.27" font-size="12.2" text-anchor="end" >5</text>
<line x1="428.00" y1="912.24" x2="433.00" y2="912.24" stroke="#000" stroke-width="1.8" stroke-linecap="butt"/>
<text x="426.50" y="916.64" font-size="12.2" text-anchor="end" >10</text>
<line x1="428.00" y1="896.61" x2="433.00" y2="896.61" stroke="#000" stroke-width="1.8" stroke-linecap="butt"/>
<text x="426.50" y="901.01" font-size="12.2" text-anchor="end" >15</text>
<line x1="428.00" y1="883.90" x2="433.00" y2="883.90" stroke="#000" stroke-width="1.8" stroke-linecap="butt"/>
<text x="426.50" y="888.30" font-size="12.2" text-anchor="end" >20</text>
<line x1="428.00" y1="868.27" x2="433.00" y2="868.27" stroke="#000" stroke-width="1.8" stroke-linecap="butt"/>
<text x="426.50" y="872.67" font-size="12.2" text-anchor="end" >40</text>
<line x1="428.00" y1="852.64" x2="433.00" y2="852.64" stroke="#000" stroke-width="1.8" stroke-linecap="butt"/>
<text x="426.50" y="857.04" font-size="12.2" text-anchor="end" >60</text>
<line x1="428.00" y1="837.01" x2="433.00" y2="837.01" stroke="#000" stroke-width="1.8" stroke-linecap="butt"/>
<text x="426.50" y="841.41" font-size="12.2" text-anchor="end" >80</text>
<line x1="428.00" y1="823.90" x2="433.00" y2="823.90" stroke="#000" stroke-width="1.8" stroke-linecap="butt"/>
<text x="426.50" y="828.30" font-size="12.2" text-anchor="end" >100</text>
<line x1="428.00" y1="808.30" x2="433.00" y2="808.30" stroke="#000" stroke-width="1.8" stroke-linecap="butt"/>
<text x="426.50" y="812.70" font-size="12.2" text-anchor="end" >200</text>
<line x1="428.00" y1="792.70" x2="433.00" y2="792.70" stroke="#000" stroke-width="1.8" stroke-linecap="butt"/>
<text x="426.50" y="797.10" font-size="12.2" text-anchor="end" >300</text>
<line x1="428.00" y1="777.10" x2="433.00" y2="777.10" stroke="#000" stroke-width="1.8" stroke-linecap="butt"/>
<text x="426.50" y="781.50" font-size="12.2" text-anchor="end" >400</text>
<text x="399.80" y="859.50" font-size="13.3" text-anchor="middle" transform="rotate(-90 399.80 859.50)" >Relative expression</text>
<line x1="456.50" y1="943.50" x2="456.50" y2="948.80" stroke="#000" stroke-width="1.8" stroke-linecap="butt"/>
<line x1="443.90" y1="939.75" x2="443.90" y2="942.37" stroke="#000" stroke-width="2.2" stroke-linecap="butt"/>
<line x1="441.15" y1="939.75" x2="446.65" y2="939.75" stroke="#000" stroke-width="2.2" stroke-linecap="butt"/>
<path d="M439.75 943.50V940.42H448.05V943.50" fill="#000" stroke="#000" stroke-width="2.5" stroke-linejoin="round"/>
<line x1="456.60" y1="920.99" x2="456.60" y2="925.49" stroke="#000" stroke-width="2.2" stroke-linecap="butt"/>
<line x1="453.85" y1="920.99" x2="459.35" y2="920.99" stroke="#000" stroke-width="2.2" stroke-linecap="butt"/>
<path d="M452.45 943.50V923.54H460.75V943.50" fill="#0000ff" stroke="#000" stroke-width="2.5" stroke-linejoin="round"/>
<line x1="469.90" y1="899.42" x2="469.90" y2="907.36" stroke="#000" stroke-width="2.2" stroke-linecap="butt"/>
<line x1="467.15" y1="899.42" x2="472.65" y2="899.42" stroke="#000" stroke-width="2.2" stroke-linecap="butt"/>
<path d="M465.75 943.50V905.41H474.05V943.50" fill="#ff0000" stroke="#000" stroke-width="2.5" stroke-linejoin="round"/>
<text x="461.00" y="958.00" font-size="12.6" text-anchor="end" transform="rotate(-45 461.00 958.00)" >CYP3A4</text>
<line x1="504.10" y1="943.50" x2="504.10" y2="948.80" stroke="#000" stroke-width="1.8" stroke-linecap="butt"/>
<line x1="491.50" y1="939.44" x2="491.50" y2="942.37" stroke="#000" stroke-width="2.2" stroke-linecap="butt"/>
<line x1="488.75" y1="939.44" x2="494.25" y2="939.44" stroke="#000" stroke-width="2.2" stroke-linecap="butt"/>
<path d="M487.35 943.50V940.42H495.65V943.50" fill="#000" stroke="#000" stroke-width="2.5" stroke-linejoin="round"/>
<line x1="504.20" y1="840.92" x2="504.20" y2="852.14" stroke="#000" stroke-width="2.2" stroke-linecap="butt"/>
<line x1="501.45" y1="840.92" x2="506.95" y2="840.92" stroke="#000" stroke-width="2.2" stroke-linecap="butt"/>
<path d="M500.05 943.50V850.19H508.35V943.50" fill="#0000ff" stroke="#000" stroke-width="2.5" stroke-linejoin="round"/>
<line x1="517.50" y1="819.69" x2="517.50" y2="824.65" stroke="#000" stroke-width="2.2" stroke-linecap="butt"/>
<line x1="514.75" y1="819.69" x2="520.25" y2="819.69" stroke="#000" stroke-width="2.2" stroke-linecap="butt"/>
<path d="M513.35 943.50V822.70H521.65V943.50" fill="#ff0000" stroke="#000" stroke-width="2.5" stroke-linejoin="round"/>
<text x="508.60" y="958.00" font-size="12.6" text-anchor="end" transform="rotate(-45 508.60 958.00)" >CYP1A1</text>
<line x1="551.70" y1="943.50" x2="551.70" y2="948.80" stroke="#000" stroke-width="1.8" stroke-linecap="butt"/>
<line x1="539.10" y1="939.75" x2="539.10" y2="942.37" stroke="#000" stroke-width="2.2" stroke-linecap="butt"/>
<line x1="536.35" y1="939.75" x2="541.85" y2="939.75" stroke="#000" stroke-width="2.2" stroke-linecap="butt"/>
<path d="M534.95 943.50V940.42H543.25V943.50" fill="#000" stroke="#000" stroke-width="2.5" stroke-linejoin="round"/>
<line x1="551.80" y1="873.27" x2="551.80" y2="880.27" stroke="#000" stroke-width="2.2" stroke-linecap="butt"/>
<line x1="549.05" y1="873.27" x2="554.55" y2="873.27" stroke="#000" stroke-width="2.2" stroke-linecap="butt"/>
<path d="M547.65 943.50V878.32H555.95V943.50" fill="#0000ff" stroke="#000" stroke-width="2.5" stroke-linejoin="round"/>
<line x1="565.10" y1="849.36" x2="565.10" y2="858.16" stroke="#000" stroke-width="2.2" stroke-linecap="butt"/>
<line x1="562.35" y1="849.36" x2="567.85" y2="849.36" stroke="#000" stroke-width="2.2" stroke-linecap="butt"/>
<path d="M560.95 943.50V856.21H569.25V943.50" fill="#ff0000" stroke="#000" stroke-width="2.5" stroke-linejoin="round"/>
<text x="556.20" y="958.00" font-size="12.6" text-anchor="end" transform="rotate(-45 556.20 958.00)" >CYP1B1</text>
<line x1="599.30" y1="943.50" x2="599.30" y2="948.80" stroke="#000" stroke-width="1.8" stroke-linecap="butt"/>
<line x1="586.70" y1="939.75" x2="586.70" y2="942.37" stroke="#000" stroke-width="2.2" stroke-linecap="butt"/>
<line x1="583.95" y1="939.75" x2="589.45" y2="939.75" stroke="#000" stroke-width="2.2" stroke-linecap="butt"/>
<path d="M582.55 943.50V940.42H590.85V943.50" fill="#000" stroke="#000" stroke-width="2.5" stroke-linejoin="round"/>
<line x1="599.40" y1="939.59" x2="599.40" y2="942.22" stroke="#000" stroke-width="2.2" stroke-linecap="butt"/>
<line x1="596.65" y1="939.59" x2="602.15" y2="939.59" stroke="#000" stroke-width="2.2" stroke-linecap="butt"/>
<path d="M595.25 943.50V940.27H603.55V943.50" fill="#0000ff" stroke="#000" stroke-width="2.5" stroke-linejoin="round"/>
<line x1="612.70" y1="923.49" x2="612.70" y2="931.12" stroke="#000" stroke-width="2.2" stroke-linecap="butt"/>
<line x1="609.95" y1="923.49" x2="615.45" y2="923.49" stroke="#000" stroke-width="2.2" stroke-linecap="butt"/>
<path d="M608.55 943.50V929.17H616.85V943.50" fill="#ff0000" stroke="#000" stroke-width="2.5" stroke-linejoin="round"/>
<text x="603.80" y="958.00" font-size="12.6" text-anchor="end" transform="rotate(-45 603.80 958.00)" >CYP2C9</text>
<line x1="646.90" y1="943.50" x2="646.90" y2="948.80" stroke="#000" stroke-width="1.8" stroke-linecap="butt"/>
<line x1="634.30" y1="938.19" x2="634.30" y2="941.75" stroke="#000" stroke-width="2.2" stroke-linecap="butt"/>
<line x1="631.55" y1="938.19" x2="637.05" y2="938.19" stroke="#000" stroke-width="2.2" stroke-linecap="butt"/>
<path d="M630.15 943.50V939.80H638.45V943.50" fill="#000" stroke="#000" stroke-width="2.5" stroke-linejoin="round"/>
<line x1="647.00" y1="810.95" x2="647.00" y2="817.79" stroke="#000" stroke-width="2.2" stroke-linecap="butt"/>
<line x1="644.25" y1="810.95" x2="649.75" y2="810.95" stroke="#000" stroke-width="2.2" stroke-linecap="butt"/>
<path d="M642.85 943.50V815.84H651.15V943.50" fill="#0000ff" stroke="#000" stroke-width="2.5" stroke-linejoin="round"/>
<line x1="660.30" y1="793.17" x2="660.30" y2="802.19" stroke="#000" stroke-width="2.2" stroke-linecap="butt"/>
<line x1="657.55" y1="793.17" x2="663.05" y2="793.17" stroke="#000" stroke-width="2.2" stroke-linecap="butt"/>
<path d="M656.15 943.50V800.24H664.45V943.50" fill="#ff0000" stroke="#000" stroke-width="2.5" stroke-linejoin="round"/>
<text x="651.40" y="958.00" font-size="12.6" text-anchor="end" transform="rotate(-45 651.40 958.00)" >CYP2E1</text>
<rect x="440.00" y="824.40" width="235.00" height="12.00" fill="#fff"/>
<rect x="440.00" y="884.10" width="235.00" height="12.40" fill="#fff"/>
<path d="M457.40 889.20V882.00H470.00V889.20" fill="none" stroke="#000" stroke-width="2.6" stroke-linejoin="miter"/>
<text x="463.60" y="879.00" font-size="14.5" text-anchor="middle" >**</text>
<path d="M504.20 813.60V806.40H517.40V813.60" fill="none" stroke="#000" stroke-width="2.6" stroke-linejoin="miter"/>
<text x="511.00" y="804.00" font-size="14.5" text-anchor="middle" >*</text>
<path d="M552.00 845.00V837.60H565.20V845.00" fill="none" stroke="#000" stroke-width="2.6" stroke-linejoin="miter"/>
<text x="559.00" y="835.00" font-size="14.5" text-anchor="middle" >**</text>
<path d="M600.20 917.00V910.20H612.60V917.00" fill="none" stroke="#000" stroke-width="2.6" stroke-linejoin="miter"/>
<text x="605.80" y="907.40" font-size="14.5" text-anchor="middle" >*</text>
<path d="M646.60 789.20V781.20H660.60V789.20" fill="none" stroke="#000" stroke-width="2.6" stroke-linejoin="miter"/>
<text x="653.40" y="779.20" font-size="14.5" text-anchor="middle" >*</text>
<rect x="685.80" y="770.40" width="16.80" height="8.30" fill="#000" stroke="#000" stroke-width="2.6" rx="1.5"/>
<text x="712.20" y="778.90" font-size="12.9" >H9</text>
<rect x="685.80" y="789.65" width="16.80" height="8.30" fill="#0000ff" stroke="#000" stroke-width="2.6" rx="1.5"/>
<text x="712.20" y="798.20" font-size="12.9" >Control</text>
<rect x="685.80" y="808.90" width="16.80" height="8.30" fill="#ff0000" stroke="#000" stroke-width="2.6" rx="1.5"/>
<text x="712.20" y="817.50" font-size="12.9" >DS</text>
<text x="112.00" y="32.00" font-size="16" text-anchor="middle" textLength="55.80" lengthAdjust="spacingAndGlyphs" >Control</text>
<text x="343.90" y="32.00" font-size="16" text-anchor="middle" >DS</text>
<text x="122.40" y="558.00" font-size="16" text-anchor="middle" textLength="55.80" lengthAdjust="spacingAndGlyphs" >Control</text>
<text x="363.50" y="558.30" font-size="16" text-anchor="middle" >DS</text>
<g clip-path="url(#cpa1)" style="isolation:isolate">
<rect x="9.3" y="43.0" width="201.7" height="126.5" fill="#7d8291"/>
<g filter="url(#soft)">
<ellipse cx="36.8" cy="88.0" rx="32.7" ry="33.5" fill="#a9aebd"/>
<ellipse cx="55.7" cy="39.5" rx="21.7" ry="21.7" fill="#a9aebd"/>
<ellipse cx="80.7" cy="69.6" rx="20.2" ry="20.2" fill="#a9aebd"/>
<ellipse cx="121.9" cy="58.5" rx="21.1" ry="21.1" fill="#a9aebd"/>
<ellipse cx="147.2" cy="87.0" rx="18.6" ry="18.6" fill="#a9aebd"/>
<ellipse cx="109.2" cy="93.5" rx="14.2" ry="14.2" fill="#a9aebd"/>
<ellipse cx="155.5" cy="58.8" rx="8.8" ry="8.8" fill="#a9aebd"/>
<ellipse cx="206.5" cy="68.3" rx="13.2" ry="13.2" fill="#a9aebd"/>
<ellipse cx="177.6" cy="125.5" rx="32.9" ry="30.0" fill="#a9aebd"/>
<ellipse cx="57.0" cy="135.3" rx="18.0" ry="18.0" fill="#a9aebd"/>
<ellipse cx="104.5" cy="123.4" rx="13.9" ry="13.9" fill="#a9aebd"/>
<ellipse cx="127.6" cy="107.6" rx="9.1" ry="9.1" fill="#a9aebd"/>
<ellipse cx="132.7" cy="146.7" rx="21.9" ry="19.9" fill="#a9aebd"/>
<ellipse cx="91.8" cy="148.7" rx="17.0" ry="17.0" fill="#a9aebd"/>
<ellipse cx="31.5" cy="152.2" rx="14.3" ry="14.3" fill="#a9aebd"/>
<ellipse cx="63.0" cy="164.9" rx="11.5" ry="11.5" fill="#a9aebd"/>
<ellipse cx="175.7" cy="161.4" rx="9.4" ry="9.4" fill="#a9aebd"/>
<ellipse cx="-4.3" cy="135.3" rx="21.1" ry="21.1" fill="#a9aebd"/>
<ellipse cx="216.0" cy="151.9" rx="13.9" ry="13.9" fill="#a9aebd"/>
<ellipse cx="192.2" cy="22.1" rx="28.1" ry="28.1" fill="#a9aebd"/>
<ellipse cx="11.4" cy="48.4" rx="7.5" ry="7.5" fill="#a9aebd"/>
<ellipse cx="12.7" cy="163.0" rx="9.1" ry="9.1" fill="#a9aebd"/>
<ellipse cx="31.7" cy="170.9" rx="8.2" ry="8.2" fill="#a9aebd"/>
<ellipse cx="36.8" cy="88.0" rx="31.5" ry="32.3" fill="url(#g0)" stroke="#30305a" stroke-width="0.5"/>
<ellipse cx="55.7" cy="39.5" rx="20.5" ry="20.5" fill="url(#g1)" stroke="#30305a" stroke-width="0.5"/>
<ellipse cx="80.7" cy="69.6" rx="19.0" ry="19.0" fill="url(#g1)" stroke="#30305a" stroke-width="0.5"/>
<ellipse cx="121.9" cy="58.5" rx="19.9" ry="19.9" fill="url(#g1)" stroke="#30305a" stroke-width="0.5"/>
<ellipse cx="147.2" cy="87.0" rx="17.4" ry="17.4" fill="url(#g1)" stroke="#30305a" stroke-width="0.5"/>
<ellipse cx="109.2" cy="93.5" rx="13.0" ry="13.0" fill="url(#g2)" stroke="#30305a" stroke-width="0.5"/>
<ellipse cx="155.5" cy="58.8" rx="7.6" ry="7.6" fill="url(#g3)" stroke="#30305a" stroke-width="0.5"/>
<ellipse cx="206.5" cy="68.3" rx="12.0" ry="12.0" fill="url(#g2)" stroke="#30305a" stroke-width="0.5"/>
<ellipse cx="177.6" cy="125.5" rx="31.7" ry="28.8" fill="url(#g0)" stroke="#30305a" stroke-width="0.5"/>
<ellipse cx="57.0" cy="135.3" rx="16.8" ry="16.8" fill="url(#g1)" stroke="#30305a" stroke-width="0.5"/>
<ellipse cx="104.5" cy="123.4" rx="12.7" ry="12.7" fill="url(#g2)" stroke="#30305a" stroke-width="0.5"/>
<ellipse cx="127.6" cy="107.6" rx="7.9" ry="7.9" fill="url(#g3)" stroke="#30305a" stroke-width="0.5"/>
<ellipse cx="132.7" cy="146.7" rx="20.7" ry="18.7" fill="url(#g1)" stroke="#30305a" stroke-width="0.5"/>
<ellipse cx="91.8" cy="148.7" rx="15.8" ry="15.8" fill="url(#g1)" stroke="#30305a" stroke-width="0.5"/>
<ellipse cx="31.5" cy="152.2" rx="13.1" ry="13.1" fill="url(#g2)" stroke="#30305a" stroke-width="0.5"/>
<ellipse cx="63.0" cy="164.9" rx="10.3" ry="10.3" fill="url(#g2)" stroke="#30305a" stroke-width="0.5"/>
<ellipse cx="175.7" cy="161.4" rx="8.2" ry="8.2" fill="url(#g3)" stroke="#30305a" stroke-width="0.5"/>
<ellipse cx="-4.3" cy="135.3" rx="19.9" ry="19.9" fill="url(#g1)" stroke="#30305a" stroke-width="0.5"/>
<ellipse cx="216.0" cy="151.9" rx="12.7" ry="12.7" fill="url(#g1)" stroke="#30305a" stroke-width="0.5"/>
<ellipse cx="192.2" cy="22.1" rx="26.9" ry="26.9" fill="url(#g1)" stroke="#30305a" stroke-width="0.5"/>
<ellipse cx="11.4" cy="48.4" rx="6.3" ry="6.3" fill="url(#g3)" stroke="#30305a" stroke-width="0.5"/>
<ellipse cx="12.7" cy="163.0" rx="7.9" ry="7.9" fill="url(#g2)" stroke="#30305a" stroke-width="0.5"/>
<ellipse cx="31.7" cy="170.9" rx="7.0" ry="7.0" fill="url(#g2)" stroke="#30305a" stroke-width="0.5"/>
</g>
<rect x="9.3" y="43.0" width="201.7" height="126.5" filter="url(#blotch)" opacity="0.3" style="mix-blend-mode:soft-light"/>
<rect x="9.3" y="43.0" width="201.7" height="126.5" filter="url(#grainL)" opacity="0.35" style="mix-blend-mode:soft-light"/>
<rect x="184.6" y="163.6" width="24.4" height="5.1" fill="#fff"/>
</g>
<g clip-path="url(#cpa2)" style="isolation:isolate">
<rect x="242.2" y="43.0" width="200.6" height="126.5" fill="#adafb6"/>
<g filter="url(#soft)">
<ellipse cx="280.7" cy="61.7" rx="15.8" ry="22.4" fill="#c6c7cf"/>
<ellipse cx="280.7" cy="94.9" rx="15.8" ry="15.8" fill="#c6c7cf"/>
<ellipse cx="309.2" cy="83.8" rx="14.8" ry="14.8" fill="#c6c7cf"/>
<ellipse cx="347.2" cy="82.2" rx="17.5" ry="17.5" fill="#c6c7cf"/>
<ellipse cx="345.6" cy="113.9" rx="15.8" ry="15.8" fill="#c6c7cf"/>
<ellipse cx="386.7" cy="88.6" rx="14.8" ry="14.8" fill="#c6c7cf"/>
<ellipse cx="393.7" cy="63.2" rx="12.5" ry="12.5" fill="#c6c7cf"/>
<ellipse cx="416.8" cy="90.2" rx="12.5" ry="12.5" fill="#c6c7cf"/>
<ellipse cx="377.2" cy="109.2" rx="12.5" ry="12.5" fill="#c6c7cf"/>
<ellipse cx="410.5" cy="112.3" rx="11.5" ry="11.5" fill="#c6c7cf"/>
<ellipse cx="385.2" cy="134.5" rx="15.8" ry="15.8" fill="#c6c7cf"/>
<ellipse cx="321.8" cy="129.7" rx="14.8" ry="14.8" fill="#c6c7cf"/>
<ellipse cx="304.4" cy="113.9" rx="10.2" ry="10.2" fill="#c6c7cf"/>
<ellipse cx="283.8" cy="129.7" rx="11.9" ry="11.9" fill="#c6c7cf"/>
<ellipse cx="255.3" cy="125.0" rx="13.5" ry="13.5" fill="#c6c7cf"/>
<ellipse cx="272.7" cy="113.9" rx="9.9" ry="9.9" fill="#c6c7cf"/>
<ellipse cx="260.1" cy="153.5" rx="14.2" ry="14.2" fill="#c6c7cf"/>
<ellipse cx="294.9" cy="147.8" rx="10.9" ry="10.9" fill="#c6c7cf"/>
<ellipse cx="315.5" cy="158.2" rx="15.8" ry="15.8" fill="#c6c7cf"/>
<ellipse cx="340.8" cy="159.8" rx="10.9" ry="10.9" fill="#c6c7cf"/>
<ellipse cx="363.0" cy="156.7" rx="12.5" ry="12.5" fill="#c6c7cf"/>
<ellipse cx="387.4" cy="156.7" rx="10.9" ry="10.9" fill="#c6c7cf"/>
<ellipse cx="410.5" cy="164.6" rx="12.5" ry="12.5" fill="#c6c7cf"/>
<ellipse cx="416.8" cy="147.2" rx="9.2" ry="9.2" fill="#c6c7cf"/>
<ellipse cx="431.1" cy="132.9" rx="10.2" ry="10.2" fill="#c6c7cf"/>
<ellipse cx="412.1" cy="131.3" rx="8.2" ry="8.2" fill="#c6c7cf"/>
<ellipse cx="364.6" cy="93.3" rx="10.2" ry="10.2" fill="#c6c7cf"/>
<ellipse cx="372.5" cy="68.0" rx="9.2" ry="9.2" fill="#c6c7cf"/>
<ellipse cx="309.2" cy="61.7" rx="9.2" ry="9.2" fill="#c6c7cf"/>
<ellipse cx="334.5" cy="53.7" rx="10.9" ry="10.9" fill="#c6c7cf"/>
<ellipse cx="420.0" cy="66.4" rx="10.2" ry="10.2" fill="#c6c7cf"/>
<ellipse cx="432.7" cy="53.7" rx="10.2" ry="10.2" fill="#c6c7cf"/>
<ellipse cx="247.4" cy="71.2" rx="9.2" ry="9.2" fill="#c6c7cf"/>
<ellipse cx="260.1" cy="61.7" rx="7.6" ry="7.6" fill="#c6c7cf"/>
<ellipse cx="247.4" cy="93.3" rx="8.2" ry="8.2" fill="#c6c7cf"/>
<ellipse cx="261.7" cy="101.2" rx="6.9" ry="6.9" fill="#c6c7cf"/>
<ellipse cx="340.8" cy="140.8" rx="9.2" ry="9.2" fill="#c6c7cf"/>
<ellipse cx="363.0" cy="137.7" rx="7.6" ry="7.6" fill="#c6c7cf"/>
<ellipse cx="432.7" cy="101.2" rx="7.6" ry="7.6" fill="#c6c7cf"/>
<ellipse cx="437.4" cy="113.9" rx="6.9" ry="6.9" fill="#c6c7cf"/>
<ellipse cx="277.5" cy="145.6" rx="6.9" ry="6.9" fill="#c6c7cf"/>
<ellipse cx="280.7" cy="161.4" rx="7.6" ry="7.6" fill="#c6c7cf"/>
<ellipse cx="432.7" cy="156.7" rx="6.9" ry="6.9" fill="#c6c7cf"/>
<ellipse cx="253.7" cy="49.0" rx="8.2" ry="8.2" fill="#c6c7cf"/>
<ellipse cx="298.1" cy="50.6" rx="6.9" ry="6.9" fill="#c6c7cf"/>
<ellipse cx="369.3" cy="49.6" rx="8.2" ry="8.2" fill="#c6c7cf"/>
<ellipse cx="402.6" cy="47.4" rx="7.6" ry="7.6" fill="#c6c7cf"/>
<ellipse cx="325.0" cy="101.2" rx="6.9" ry="6.9" fill="#c6c7cf"/>
<ellipse cx="326.6" cy="77.5" rx="5.9" ry="5.9" fill="#c6c7cf"/>
<ellipse cx="247.4" cy="166.2" rx="8.2" ry="8.2" fill="#c6c7cf"/>
<ellipse cx="394.7" cy="113.9" rx="6.3" ry="6.3" fill="#c6c7cf"/>
<ellipse cx="432.7" cy="80.7" rx="6.9" ry="6.9" fill="#c6c7cf"/>
<ellipse cx="355.1" cy="63.2" rx="6.9" ry="6.9" fill="#c6c7cf"/>
<ellipse cx="247.4" cy="110.7" rx="6.9" ry="6.9" fill="#c6c7cf"/>
<ellipse cx="302.8" cy="131.3" rx="6.3" ry="6.3" fill="#c6c7cf"/>
<ellipse cx="288.6" cy="113.9" rx="5.9" ry="5.9" fill="#c6c7cf"/>
<ellipse cx="402.6" cy="77.5" rx="8.2" ry="8.2" fill="#c6c7cf"/>
<ellipse cx="439.0" cy="166.2" rx="6.9" ry="6.9" fill="#c6c7cf"/>
<ellipse cx="418.6" cy="51.6" rx="5.8" ry="5.8" fill="#c6c7cf"/>
<ellipse cx="260.8" cy="88.6" rx="4.6" ry="4.6" fill="#c6c7cf"/>
<ellipse cx="351.4" cy="44.5" rx="6.1" ry="6.1" fill="#c6c7cf"/>
<ellipse cx="353.9" cy="143.7" rx="4.8" ry="4.8" fill="#c6c7cf"/>
<ellipse cx="388.0" cy="43.6" rx="6.2" ry="6.2" fill="#c6c7cf"/>
<ellipse cx="441.9" cy="144.3" rx="7.4" ry="7.4" fill="#c6c7cf"/>
<ellipse cx="381.0" cy="169.7" rx="5.5" ry="5.5" fill="#c6c7cf"/>
<ellipse cx="294.0" cy="167.0" rx="7.4" ry="7.4" fill="#c6c7cf"/>
<ellipse cx="366.5" cy="125.2" rx="4.7" ry="4.7" fill="#c6c7cf"/>
<ellipse cx="352.6" cy="135.3" rx="4.6" ry="4.6" fill="#c6c7cf"/>
<ellipse cx="425.8" cy="171.5" rx="5.8" ry="5.8" fill="#c6c7cf"/>
<ellipse cx="437.7" cy="68.2" rx="5.6" ry="5.6" fill="#c6c7cf"/>
<ellipse cx="316.0" cy="107.1" rx="4.9" ry="4.9" fill="#c6c7cf"/>
<ellipse cx="399.9" cy="101.0" rx="5.0" ry="5.0" fill="#c6c7cf"/>
<ellipse cx="240.4" cy="45.4" rx="4.9" ry="4.9" fill="#c6c7cf"/>
<ellipse cx="241.3" cy="151.6" rx="6.7" ry="6.7" fill="#c6c7cf"/>
<ellipse cx="312.9" cy="48.4" rx="5.3" ry="5.3" fill="#c6c7cf"/>
<ellipse cx="321.9" cy="42.7" rx="5.8" ry="5.8" fill="#c6c7cf"/>
<ellipse cx="240.6" cy="135.6" rx="5.3" ry="5.3" fill="#c6c7cf"/>
<ellipse cx="372.6" cy="170.1" rx="4.7" ry="4.7" fill="#c6c7cf"/>
<ellipse cx="443.7" cy="124.4" rx="4.6" ry="4.6" fill="#c6c7cf"/>
<ellipse cx="409.3" cy="57.1" rx="5.6" ry="5.6" fill="#c6c7cf"/>
<ellipse cx="443.9" cy="80.0" rx="4.6" ry="4.6" fill="#c6c7cf"/>
<ellipse cx="444.7" cy="41.7" rx="6.3" ry="6.3" fill="#c6c7cf"/>
<ellipse cx="401.6" cy="150.8" rx="5.0" ry="5.0" fill="#c6c7cf"/>
<ellipse cx="246.3" cy="142.9" rx="4.6" ry="4.6" fill="#c6c7cf"/>
<ellipse cx="443.4" cy="97.8" rx="5.6" ry="5.6" fill="#c6c7cf"/>
<ellipse cx="426.0" cy="117.8" rx="5.8" ry="5.8" fill="#c6c7cf"/>
<ellipse cx="261.1" cy="77.2" rx="4.8" ry="4.8" fill="#c6c7cf"/>
<ellipse cx="324.6" cy="112.2" rx="4.5" ry="4.5" fill="#c6c7cf"/>
<ellipse cx="330.3" cy="171.1" rx="4.8" ry="4.8" fill="#c6c7cf"/>
<ellipse cx="242.5" cy="53.3" rx="4.7" ry="4.7" fill="#c6c7cf"/>
<ellipse cx="268.0" cy="171.3" rx="6.7" ry="6.7" fill="#c6c7cf"/>
<ellipse cx="391.2" cy="170.0" rx="4.8" ry="4.8" fill="#c6c7cf"/>
<ellipse cx="415.8" cy="42.3" rx="4.5" ry="4.5" fill="#c6c7cf"/>
<ellipse cx="379.6" cy="55.5" rx="4.5" ry="4.5" fill="#c6c7cf"/>
<ellipse cx="299.8" cy="100.2" rx="4.7" ry="4.7" fill="#c6c7cf"/>
<ellipse cx="301.9" cy="41.2" rx="4.9" ry="4.9" fill="#c6c7cf"/>
<ellipse cx="351.6" cy="170.8" rx="5.5" ry="5.5" fill="#c6c7cf"/>
<ellipse cx="406.0" cy="141.1" rx="5.1" ry="5.1" fill="#c6c7cf"/>
<ellipse cx="368.2" cy="80.7" rx="4.8" ry="4.8" fill="#c6c7cf"/>
<ellipse cx="331.8" cy="68.8" rx="4.6" ry="4.6" fill="#c6c7cf"/>
<ellipse cx="324.2" cy="65.8" rx="5.2" ry="5.2" fill="#c6c7cf"/>
<ellipse cx="280.7" cy="61.7" rx="14.8" ry="21.4" fill="url(#g4)" stroke="#3c3c88" stroke-width="0.7"/>
<ellipse cx="280.7" cy="94.9" rx="14.8" ry="14.8" fill="url(#g4)" stroke="#3c3c88" stroke-width="0.7"/>
<ellipse cx="309.2" cy="83.8" rx="13.8" ry="13.8" fill="url(#g4)" stroke="#3c3c88" stroke-width="0.7"/>
<ellipse cx="347.2" cy="82.2" rx="16.5" ry="16.5" fill="url(#g4)" stroke="#3c3c88" stroke-width="0.7"/>
<ellipse cx="345.6" cy="113.9" rx="14.8" ry="14.8" fill="url(#g4)" stroke="#3c3c88" stroke-width="0.7"/>
<ellipse cx="386.7" cy="88.6" rx="13.8" ry="13.8" fill="url(#g4)" stroke="#3c3c88" stroke-width="0.7"/>
<ellipse cx="393.7" cy="63.2" rx="11.5" ry="11.5" fill="url(#g5)" stroke="#3c3c88" stroke-width="0.7"/>
<ellipse cx="416.8" cy="90.2" rx="11.5" ry="11.5" fill="url(#g4)" stroke="#3c3c88" stroke-width="0.7"/>
<ellipse cx="377.2" cy="109.2" rx="11.5" ry="11.5" fill="url(#g5)" stroke="#3c3c88" stroke-width="0.7"/>
<ellipse cx="410.5" cy="112.3" rx="10.5" ry="10.5" fill="url(#g4)" stroke="#3c3c88" stroke-width="0.7"/>
<ellipse cx="385.2" cy="134.5" rx="14.8" ry="14.8" fill="url(#g4)" stroke="#3c3c88" stroke-width="0.7"/>
<ellipse cx="321.8" cy="129.7" rx="13.8" ry="13.8" fill="url(#g5)" stroke="#3c3c88" stroke-width="0.7"/>
<ellipse cx="304.4" cy="113.9" rx="9.2" ry="9.2" fill="url(#g4)" stroke="#3c3c88" stroke-width="0.7"/>
<ellipse cx="283.8" cy="129.7" rx="10.9" ry="10.9" fill="url(#g5)" stroke="#3c3c88" stroke-width="0.7"/>
<ellipse cx="255.3" cy="125.0" rx="12.5" ry="12.5" fill="url(#g4)" stroke="#3c3c88" stroke-width="0.7"/>
<ellipse cx="272.7" cy="113.9" rx="8.9" ry="8.9" fill="url(#g5)" stroke="#3c3c88" stroke-width="0.7"/>
<ellipse cx="260.1" cy="153.5" rx="13.2" ry="13.2" fill="url(#g4)" stroke="#3c3c88" stroke-width="0.7"/>
<ellipse cx="294.9" cy="147.8" rx="9.9" ry="9.9" fill="url(#g5)" stroke="#3c3c88" stroke-width="0.7"/>
<ellipse cx="315.5" cy="158.2" rx="14.8" ry="14.8" fill="url(#g4)" stroke="#3c3c88" stroke-width="0.7"/>
<ellipse cx="340.8" cy="159.8" rx="9.9" ry="9.9" fill="url(#g4)" stroke="#3c3c88" stroke-width="0.7"/>
<ellipse cx="363.0" cy="156.7" rx="11.5" ry="11.5" fill="url(#g4)" stroke="#3c3c88" stroke-width="0.7"/>
<ellipse cx="387.4" cy="156.7" rx="9.9" ry="9.9" fill="url(#g5)" stroke="#3c3c88" stroke-width="0.7"/>
<ellipse cx="410.5" cy="164.6" rx="11.5" ry="11.5" fill="url(#g4)" stroke="#3c3c88" stroke-width="0.7"/>
<ellipse cx="416.8" cy="147.2" rx="8.2" ry="8.2" fill="url(#g5)" stroke="#3c3c88" stroke-width="0.7"/>
<ellipse cx="431.1" cy="132.9" rx="9.2" ry="9.2" fill="url(#g4)" stroke="#3c3c88" stroke-width="0.7"/>
<ellipse cx="412.1" cy="131.3" rx="7.2" ry="7.2" fill="url(#g6)" stroke="#3c3c88" stroke-width="0.7"/>
<ellipse cx="364.6" cy="93.3" rx="9.2" ry="9.2" fill="url(#g5)" stroke="#3c3c88" stroke-width="0.7"/>
<ellipse cx="372.5" cy="68.0" rx="8.2" ry="8.2" fill="url(#g5)" stroke="#3c3c88" stroke-width="0.7"/>
<ellipse cx="309.2" cy="61.7" rx="8.2" ry="8.2" fill="url(#g6)" stroke="#3c3c88" stroke-width="0.7"/>
<ellipse cx="334.5" cy="53.7" rx="9.9" ry="9.9" fill="url(#g4)" stroke="#3c3c88" stroke-width="0.7"/>
<ellipse cx="420.0" cy="66.4" rx="9.2" ry="9.2" fill="url(#g4)" stroke="#3c3c88" stroke-width="0.7"/>
<ellipse cx="432.7" cy="53.7" rx="9.2" ry="9.2" fill="url(#g4)" stroke="#3c3c88" stroke-width="0.7"/>
<ellipse cx="247.4" cy="71.2" rx="8.2" ry="8.2" fill="url(#g5)" stroke="#3c3c88" stroke-width="0.7"/>
<ellipse cx="260.1" cy="61.7" rx="6.6" ry="6.6" fill="url(#g6)" stroke="#3c3c88" stroke-width="0.7"/>
<ellipse cx="247.4" cy="93.3" rx="7.2" ry="7.2" fill="url(#g6)" stroke="#3c3c88" stroke-width="0.7"/>
<ellipse cx="261.7" cy="101.2" rx="5.9" ry="5.9" fill="url(#g6)" stroke="#3c3c88" stroke-width="0.7"/>
<ellipse cx="340.8" cy="140.8" rx="8.2" ry="8.2" fill="url(#g6)" stroke="#3c3c88" stroke-width="0.7"/>
<ellipse cx="363.0" cy="137.7" rx="6.6" ry="6.6" fill="url(#g6)" stroke="#3c3c88" stroke-width="0.7"/>
<ellipse cx="432.7" cy="101.2" rx="6.6" ry="6.6" fill="url(#g6)" stroke="#3c3c88" stroke-width="0.7"/>
<ellipse cx="437.4" cy="113.9" rx="5.9" ry="5.9" fill="url(#g6)" stroke="#3c3c88" stroke-width="0.7"/>
<ellipse cx="277.5" cy="145.6" rx="5.9" ry="5.9" fill="url(#g6)" stroke="#3c3c88" stroke-width="0.7"/>
<ellipse cx="280.7" cy="161.4" rx="6.6" ry="6.6" fill="url(#g5)" stroke="#3c3c88" stroke-width="0.7"/>
<ellipse cx="432.7" cy="156.7" rx="5.9" ry="5.9" fill="url(#g6)" stroke="#3c3c88" stroke-width="0.7"/>
<ellipse cx="253.7" cy="49.0" rx="7.2" ry="7.2" fill="url(#g6)" stroke="#3c3c88" stroke-width="0.7"/>
<ellipse cx="298.1" cy="50.6" rx="5.9" ry="5.9" fill="url(#g6)" stroke="#3c3c88" stroke-width="0.7"/>
<ellipse cx="369.3" cy="49.6" rx="7.2" ry="7.2" fill="url(#g5)" stroke="#3c3c88" stroke-width="0.7"/>
<ellipse cx="402.6" cy="47.4" rx="6.6" ry="6.6" fill="url(#g6)" stroke="#3c3c88" stroke-width="0.7"/>
<ellipse cx="325.0" cy="101.2" rx="5.9" ry="5.9" fill="url(#g6)" stroke="#3c3c88" stroke-width="0.7"/>
<ellipse cx="326.6" cy="77.5" rx="4.9" ry="4.9" fill="url(#g6)" stroke="#3c3c88" stroke-width="0.7"/>
<ellipse cx="247.4" cy="166.2" rx="7.2" ry="7.2" fill="url(#g6)" stroke="#3c3c88" stroke-width="0.7"/>
<ellipse cx="394.7" cy="113.9" rx="5.3" ry="5.3" fill="url(#g6)" stroke="#3c3c88" stroke-width="0.7"/>
<ellipse cx="432.7" cy="80.7" rx="5.9" ry="5.9" fill="url(#g6)" stroke="#3c3c88" stroke-width="0.7"/>
<ellipse cx="355.1" cy="63.2" rx="5.9" ry="5.9" fill="url(#g6)" stroke="#3c3c88" stroke-width="0.7"/>
<ellipse cx="247.4" cy="110.7" rx="5.9" ry="5.9" fill="url(#g6)" stroke="#3c3c88" stroke-width="0.7"/>
<ellipse cx="302.8" cy="131.3" rx="5.3" ry="5.3" fill="url(#g6)" stroke="#3c3c88" stroke-width="0.7"/>
<ellipse cx="288.6" cy="113.9" rx="4.9" ry="4.9" fill="url(#g6)" stroke="#3c3c88" stroke-width="0.7"/>
<ellipse cx="402.6" cy="77.5" rx="7.2" ry="7.2" fill="url(#g5)" stroke="#3c3c88" stroke-width="0.7"/>
<ellipse cx="439.0" cy="166.2" rx="5.9" ry="5.9" fill="url(#g6)" stroke="#3c3c88" stroke-width="0.7"/>
<ellipse cx="418.6" cy="51.6" rx="4.8" ry="4.8" fill="url(#g6)" stroke="#3c3c88" stroke-width="0.7"/>
<ellipse cx="260.8" cy="88.6" rx="3.6" ry="3.6" fill="url(#g6)" stroke="#3c3c88" stroke-width="0.7"/>
<ellipse cx="351.4" cy="44.5" rx="5.1" ry="5.1" fill="url(#g6)" stroke="#3c3c88" stroke-width="0.7"/>
<ellipse cx="353.9" cy="143.7" rx="3.8" ry="3.8" fill="url(#g6)" stroke="#3c3c88" stroke-width="0.7"/>
<ellipse cx="388.0" cy="43.6" rx="5.2" ry="5.2" fill="url(#g6)" stroke="#3c3c88" stroke-width="0.7"/>
<ellipse cx="441.9" cy="144.3" rx="6.4" ry="6.4" fill="url(#g6)" stroke="#3c3c88" stroke-width="0.7"/>
<ellipse cx="381.0" cy="169.7" rx="4.5" ry="4.5" fill="url(#g6)" stroke="#3c3c88" stroke-width="0.7"/>
<ellipse cx="294.0" cy="167.0" rx="6.4" ry="6.4" fill="url(#g6)" stroke="#3c3c88" stroke-width="0.7"/>
<ellipse cx="366.5" cy="125.2" rx="3.7" ry="3.7" fill="url(#g6)" stroke="#3c3c88" stroke-width="0.7"/>
<ellipse cx="352.6" cy="135.3" rx="3.6" ry="3.6" fill="url(#g6)" stroke="#3c3c88" stroke-width="0.7"/>
<ellipse cx="425.8" cy="171.5" rx="4.8" ry="4.8" fill="url(#g6)" stroke="#3c3c88" stroke-width="0.7"/>
<ellipse cx="437.7" cy="68.2" rx="4.6" ry="4.6" fill="url(#g6)" stroke="#3c3c88" stroke-width="0.7"/>
<ellipse cx="316.0" cy="107.1" rx="3.9" ry="3.9" fill="url(#g6)" stroke="#3c3c88" stroke-width="0.7"/>
<ellipse cx="399.9" cy="101.0" rx="4.0" ry="4.0" fill="url(#g6)" stroke="#3c3c88" stroke-width="0.7"/>
<ellipse cx="240.4" cy="45.4" rx="3.9" ry="3.9" fill="url(#g6)" stroke="#3c3c88" stroke-width="0.7"/>
<ellipse cx="241.3" cy="151.6" rx="5.7" ry="5.7" fill="url(#g6)" stroke="#3c3c88" stroke-width="0.7"/>
<ellipse cx="312.9" cy="48.4" rx="4.3" ry="4.3" fill="url(#g6)" stroke="#3c3c88" stroke-width="0.7"/>
<ellipse cx="321.9" cy="42.7" rx="4.8" ry="4.8" fill="url(#g6)" stroke="#3c3c88" stroke-width="0.7"/>
<ellipse cx="240.6" cy="135.6" rx="4.3" ry="4.3" fill="url(#g6)" stroke="#3c3c88" stroke-width="0.7"/>
<ellipse cx="372.6" cy="170.1" rx="3.7" ry="3.7" fill="url(#g6)" stroke="#3c3c88" stroke-width="0.7"/>
<ellipse cx="443.7" cy="124.4" rx="3.6" ry="3.6" fill="url(#g6)" stroke="#3c3c88" stroke-width="0.7"/>
<ellipse cx="409.3" cy="57.1" rx="4.6" ry="4.6" fill="url(#g6)" stroke="#3c3c88" stroke-width="0.7"/>
<ellipse cx="443.9" cy="80.0" rx="3.6" ry="3.6" fill="url(#g6)" stroke="#3c3c88" stroke-width="0.7"/>
<ellipse cx="444.7" cy="41.7" rx="5.3" ry="5.3" fill="url(#g6)" stroke="#3c3c88" stroke-width="0.7"/>
<ellipse cx="401.6" cy="150.8" rx="4.0" ry="4.0" fill="url(#g6)" stroke="#3c3c88" stroke-width="0.7"/>
<ellipse cx="246.3" cy="142.9" rx="3.6" ry="3.6" fill="url(#g6)" stroke="#3c3c88" stroke-width="0.7"/>
<ellipse cx="443.4" cy="97.8" rx="4.6" ry="4.6" fill="url(#g6)" stroke="#3c3c88" stroke-width="0.7"/>
<ellipse cx="426.0" cy="117.8" rx="4.8" ry="4.8" fill="url(#g6)" stroke="#3c3c88" stroke-width="0.7"/>
<ellipse cx="261.1" cy="77.2" rx="3.8" ry="3.8" fill="url(#g6)" stroke="#3c3c88" stroke-width="0.7"/>
<ellipse cx="324.6" cy="112.2" rx="3.5" ry="3.5" fill="url(#g6)" stroke="#3c3c88" stroke-width="0.7"/>
<ellipse cx="330.3" cy="171.1" rx="3.8" ry="3.8" fill="url(#g6)" stroke="#3c3c88" stroke-width="0.7"/>
<ellipse cx="242.5" cy="53.3" rx="3.7" ry="3.7" fill="url(#g6)" stroke="#3c3c88" stroke-width="0.7"/>
<ellipse cx="268.0" cy="171.3" rx="5.7" ry="5.7" fill="url(#g6)" stroke="#3c3c88" stroke-width="0.7"/>
<ellipse cx="391.2" cy="170.0" rx="3.8" ry="3.8" fill="url(#g6)" stroke="#3c3c88" stroke-width="0.7"/>
<ellipse cx="415.8" cy="42.3" rx="3.5" ry="3.5" fill="url(#g6)" stroke="#3c3c88" stroke-width="0.7"/>
<ellipse cx="379.6" cy="55.5" rx="3.5" ry="3.5" fill="url(#g6)" stroke="#3c3c88" stroke-width="0.7"/>
<ellipse cx="299.8" cy="100.2" rx="3.7" ry="3.7" fill="url(#g6)" stroke="#3c3c88" stroke-width="0.7"/>
<ellipse cx="301.9" cy="41.2" rx="3.9" ry="3.9" fill="url(#g6)" stroke="#3c3c88" stroke-width="0.7"/>
<ellipse cx="351.6" cy="170.8" rx="4.5" ry="4.5" fill="url(#g6)" stroke="#3c3c88" stroke-width="0.7"/>
<ellipse cx="406.0" cy="141.1" rx="4.1" ry="4.1" fill="url(#g6)" stroke="#3c3c88" stroke-width="0.7"/>
<ellipse cx="368.2" cy="80.7" rx="3.8" ry="3.8" fill="url(#g6)" stroke="#3c3c88" stroke-width="0.7"/>
<ellipse cx="331.8" cy="68.8" rx="3.6" ry="3.6" fill="url(#g6)" stroke="#3c3c88" stroke-width="0.7"/>
<ellipse cx="324.2" cy="65.8" rx="4.2" ry="4.2" fill="url(#g6)" stroke="#3c3c88" stroke-width="0.7"/>
</g>
<rect x="242.2" y="43.0" width="200.6" height="126.5" filter="url(#blotch)" opacity="0.3" style="mix-blend-mode:soft-light"/>
<rect x="242.2" y="43.0" width="200.6" height="126.5" filter="url(#grainL)" opacity="0.35" style="mix-blend-mode:soft-light"/>
<rect x="416.0" y="164.0" width="23.8" height="4.6" fill="#fff"/>
</g>
<g clip-path="url(#cpe1)" style="isolation:isolate">
<rect x="22.2" y="571.0" width="202.8" height="126.1" fill="#acadb0"/>
<g filter="url(#soft2)">
<ellipse cx="135.9" cy="596.4" rx="26.7" ry="25.5" fill="#c9c9c9"/>
<ellipse cx="61.2" cy="620.0" rx="31.8" ry="31.2" fill="#c9c9c9"/>
<ellipse cx="129.8" cy="672.9" rx="18.8" ry="18.8" fill="#c9c9c9"/>
<ellipse cx="116.8" cy="645.9" rx="26.1" ry="24.9" fill="#c9c9c9"/>
<ellipse cx="179.5" cy="667.3" rx="35.5" ry="31.8" fill="#c9c9c9"/>
<ellipse cx="205.6" cy="649.2" rx="12.4" ry="11.5" fill="#c9c9c9"/>
<ellipse cx="29.7" cy="648.0" rx="9.7" ry="9.1" fill="#c9c9c9"/>
<ellipse cx="29.7" cy="661.6" rx="7.9" ry="7.3" fill="#c9c9c9"/>
<ellipse cx="102.5" cy="691.1" rx="12.7" ry="8.8" fill="#c9c9c9"/>
<ellipse cx="223.3" cy="588.8" rx="6.7" ry="7.9" fill="#c9c9c9"/>
<ellipse cx="135.9" cy="596.4" rx="25.5" ry="24.3" fill="url(#g7)" stroke="#3a3932" stroke-width="0.5"/>
<ellipse cx="61.2" cy="620.0" rx="30.6" ry="30.0" fill="url(#g8)" stroke="#3a3932" stroke-width="0.5"/>
<ellipse cx="61.0" cy="622.0" rx="23.7" ry="23.4" fill="url(#g9)"/>
<ellipse cx="62.5" cy="618.5" rx="18.5" ry="18.2" fill="url(#g10)"/>
<ellipse cx="129.8" cy="672.9" rx="17.6" ry="17.6" fill="url(#g11)" stroke="#3a3932" stroke-width="0.5"/>
<ellipse cx="116.8" cy="645.9" rx="24.9" ry="23.7" fill="url(#g12)" stroke="#3a3932" stroke-width="0.5"/>
<ellipse cx="136.8" cy="660.7" rx="12.1" ry="9.1" fill="url(#g13)" transform="rotate(-30 136.8 660.7)"/>
<ellipse cx="179.5" cy="667.3" rx="34.3" ry="30.6" fill="url(#g14)" stroke="#3a3932" stroke-width="0.5"/>
<ellipse cx="179.8" cy="668.2" rx="30.6" ry="27.0" fill="url(#g15)"/>
<ellipse cx="176.6" cy="663.8" rx="22.1" ry="15.8" fill="url(#g13)" transform="rotate(-40 176.6 663.8)"/>
<ellipse cx="191.4" cy="645.6" rx="15.8" ry="6.7" fill="url(#g13)" transform="rotate(25 191.4 645.6)"/>
<ellipse cx="205.6" cy="649.2" rx="11.2" ry="10.3" fill="url(#g11)" stroke="#3a3932" stroke-width="0.5"/>
<ellipse cx="29.7" cy="648.0" rx="8.5" ry="7.9" fill="url(#g11)" stroke="#3a3932" stroke-width="0.5"/>
<ellipse cx="29.7" cy="661.6" rx="6.7" ry="6.1" fill="url(#g11)" stroke="#3a3932" stroke-width="0.5"/>
<ellipse cx="102.5" cy="691.1" rx="11.5" ry="7.6" fill="url(#g11)" stroke="#3a3932" stroke-width="0.5"/>
<ellipse cx="223.3" cy="588.8" rx="5.5" ry="6.7" fill="url(#g16)" stroke="#3a3932" stroke-width="0.5"/>
</g>
<rect x="22.2" y="571.0" width="202.8" height="126.1" filter="url(#blotch)" opacity="0.2" style="mix-blend-mode:soft-light"/>
<rect x="22.2" y="571.0" width="202.8" height="126.1" filter="url(#grainL)" opacity="0.25" style="mix-blend-mode:soft-light"/>
<rect x="198.9" y="691.8" width="24.4" height="4.5" fill="#fff"/>
</g>
<g clip-path="url(#cpe2)" style="isolation:isolate">
<rect x="254.5" y="571.0" width="203.3" height="127.5" fill="#a9a9a9"/>
<g filter="url(#soft15)">
<ellipse cx="268.8" cy="573.7" rx="16.0" ry="10.6" fill="#cfcfcd"/>
<ellipse cx="312.8" cy="582.8" rx="17.2" ry="15.1" fill="#cfcfcd"/>
<ellipse cx="312.8" cy="602.5" rx="16.0" ry="14.2" fill="#cfcfcd"/>
<ellipse cx="285.5" cy="584.3" rx="10.0" ry="9.4" fill="#cfcfcd"/>
<ellipse cx="268.8" cy="599.4" rx="13.6" ry="10.6" fill="#cfcfcd"/>
<ellipse cx="285.5" cy="625.2" rx="19.6" ry="18.1" fill="#cfcfcd"/>
<ellipse cx="341.6" cy="614.6" rx="16.0" ry="15.1" fill="#cfcfcd"/>
<ellipse cx="340.1" cy="591.9" rx="10.6" ry="10.0" fill="#cfcfcd"/>
<ellipse cx="350.7" cy="572.7" rx="19.0" ry="7.0" fill="#cfcfcd"/>
<ellipse cx="373.5" cy="579.7" rx="13.6" ry="10.0" fill="#cfcfcd"/>
<ellipse cx="368.9" cy="596.4" rx="10.0" ry="10.0" fill="#cfcfcd"/>
<ellipse cx="368.9" cy="616.1" rx="13.0" ry="10.6" fill="#cfcfcd"/>
<ellipse cx="390.2" cy="601.0" rx="14.2" ry="14.2" fill="#cfcfcd"/>
<ellipse cx="435.7" cy="585.8" rx="15.1" ry="15.1" fill="#cfcfcd"/>
<ellipse cx="421.6" cy="612.0" rx="18.1" ry="13.9" fill="#cfcfcd"/>
<ellipse cx="450.0" cy="617.6" rx="12.1" ry="15.1" fill="#cfcfcd"/>
<ellipse cx="393.2" cy="623.7" rx="10.6" ry="10.0" fill="#cfcfcd"/>
<ellipse cx="411.4" cy="634.3" rx="13.0" ry="12.1" fill="#cfcfcd"/>
<ellipse cx="328.0" cy="641.9" rx="14.2" ry="14.2" fill="#cfcfcd"/>
<ellipse cx="352.3" cy="646.5" rx="14.2" ry="13.6" fill="#cfcfcd"/>
<ellipse cx="279.4" cy="648.0" rx="10.6" ry="10.0" fill="#cfcfcd"/>
<ellipse cx="265.8" cy="663.2" rx="14.2" ry="13.0" fill="#cfcfcd"/>
<ellipse cx="315.8" cy="664.7" rx="13.6" ry="13.6" fill="#cfcfcd"/>
<ellipse cx="293.1" cy="676.8" rx="16.6" ry="15.1" fill="#cfcfcd"/>
<ellipse cx="350.7" cy="672.3" rx="15.1" ry="13.6" fill="#cfcfcd"/>
<ellipse cx="405.4" cy="672.3" rx="18.4" ry="16.6" fill="#cfcfcd"/>
<ellipse cx="382.6" cy="648.0" rx="12.4" ry="15.1" fill="#cfcfcd"/>
<ellipse cx="431.1" cy="649.5" rx="12.1" ry="11.2" fill="#cfcfcd"/>
<ellipse cx="446.3" cy="669.2" rx="18.1" ry="16.6" fill="#cfcfcd"/>
<ellipse cx="375.0" cy="676.8" rx="10.0" ry="10.0" fill="#cfcfcd"/>
<ellipse cx="361.4" cy="691.1" rx="13.0" ry="10.6" fill="#cfcfcd"/>
<ellipse cx="385.6" cy="691.1" rx="12.1" ry="10.6" fill="#cfcfcd"/>
<ellipse cx="314.3" cy="692.6" rx="13.0" ry="10.0" fill="#cfcfcd"/>
<ellipse cx="273.4" cy="695.0" rx="14.2" ry="9.1" fill="#cfcfcd"/>
<ellipse cx="334.1" cy="684.4" rx="9.1" ry="10.0" fill="#cfcfcd"/>
<ellipse cx="440.2" cy="692.0" rx="13.6" ry="10.0" fill="#cfcfcd"/>
<ellipse cx="406.9" cy="695.0" rx="10.6" ry="7.6" fill="#cfcfcd"/>
<ellipse cx="368.9" cy="634.3" rx="7.0" ry="8.2" fill="#cfcfcd"/>
<ellipse cx="403.8" cy="649.5" rx="7.6" ry="7.6" fill="#cfcfcd"/>
<ellipse cx="452.4" cy="575.2" rx="8.2" ry="7.6" fill="#cfcfcd"/>
<ellipse cx="255.2" cy="631.3" rx="5.2" ry="10.6" fill="#cfcfcd"/>
<ellipse cx="268.8" cy="573.7" rx="14.4" ry="9.0" fill="url(#g17)" stroke="#2b2a26" stroke-width="0.6"/>
<ellipse cx="312.8" cy="582.8" rx="15.6" ry="13.5" fill="url(#g17)" stroke="#2b2a26" stroke-width="0.6"/>
<ellipse cx="312.8" cy="602.5" rx="14.4" ry="12.6" fill="url(#g17)" stroke="#2b2a26" stroke-width="0.6"/>
<ellipse cx="285.5" cy="584.3" rx="8.4" ry="7.8" fill="url(#g18)" stroke="#2b2a26" stroke-width="0.6"/>
<ellipse cx="268.8" cy="599.4" rx="12.0" ry="9.0" fill="url(#g18)" stroke="#2b2a26" stroke-width="0.6"/>
<ellipse cx="285.5" cy="625.2" rx="18.0" ry="16.5" fill="url(#g19)" stroke="#2b2a26" stroke-width="0.6"/>
<ellipse cx="341.6" cy="614.6" rx="14.4" ry="13.5" fill="url(#g17)" stroke="#2b2a26" stroke-width="0.6"/>
<ellipse cx="340.1" cy="591.9" rx="9.0" ry="8.4" fill="url(#g18)" stroke="#2b2a26" stroke-width="0.6"/>
<ellipse cx="350.7" cy="572.7" rx="17.4" ry="5.4" fill="url(#g17)" stroke="#2b2a26" stroke-width="0.6"/>
<ellipse cx="373.5" cy="579.7" rx="12.0" ry="8.4" fill="url(#g18)" stroke="#2b2a26" stroke-width="0.6"/>
<ellipse cx="368.9" cy="596.4" rx="8.4" ry="8.4" fill="url(#g18)" stroke="#2b2a26" stroke-width="0.6"/>
<ellipse cx="368.9" cy="616.1" rx="11.4" ry="9.0" fill="url(#g18)" stroke="#2b2a26" stroke-width="0.6"/>
<ellipse cx="390.2" cy="601.0" rx="12.6" ry="12.6" fill="url(#g19)" stroke="#2b2a26" stroke-width="0.6"/>
<ellipse cx="435.7" cy="585.8" rx="13.5" ry="13.5" fill="url(#g19)" stroke="#2b2a26" stroke-width="0.6"/>
<ellipse cx="421.6" cy="612.0" rx="16.5" ry="12.3" fill="url(#g17)" stroke="#2b2a26" stroke-width="0.6"/>
<ellipse cx="450.0" cy="617.6" rx="10.5" ry="13.5" fill="url(#g17)" stroke="#2b2a26" stroke-width="0.6"/>
<ellipse cx="393.2" cy="623.7" rx="9.0" ry="8.4" fill="url(#g18)" stroke="#2b2a26" stroke-width="0.6"/>
<ellipse cx="411.4" cy="634.3" rx="11.4" ry="10.5" fill="url(#g18)" stroke="#2b2a26" stroke-width="0.6"/>
<ellipse cx="328.0" cy="641.9" rx="12.6" ry="12.6" fill="url(#g17)" stroke="#2b2a26" stroke-width="0.6"/>
<ellipse cx="352.3" cy="646.5" rx="12.6" ry="12.0" fill="url(#g19)" stroke="#2b2a26" stroke-width="0.6"/>
<ellipse cx="279.4" cy="648.0" rx="9.0" ry="8.4" fill="url(#g17)" stroke="#2b2a26" stroke-width="0.6"/>
<ellipse cx="265.8" cy="663.2" rx="12.6" ry="11.4" fill="url(#g19)" stroke="#2b2a26" stroke-width="0.6"/>
<ellipse cx="315.8" cy="664.7" rx="12.0" ry="12.0" fill="url(#g18)" stroke="#2b2a26" stroke-width="0.6"/>
<ellipse cx="293.1" cy="676.8" rx="15.0" ry="13.5" fill="url(#g17)" stroke="#2b2a26" stroke-width="0.6"/>
<ellipse cx="350.7" cy="672.3" rx="13.5" ry="12.0" fill="url(#g19)" stroke="#2b2a26" stroke-width="0.6"/>
<ellipse cx="405.4" cy="672.3" rx="16.8" ry="15.0" fill="url(#g17)" stroke="#2b2a26" stroke-width="0.6"/>
<ellipse cx="382.6" cy="648.0" rx="10.8" ry="13.5" fill="url(#g18)" stroke="#2b2a26" stroke-width="0.6"/>
<ellipse cx="431.1" cy="649.5" rx="10.5" ry="9.6" fill="url(#g18)" stroke="#2b2a26" stroke-width="0.6"/>
<ellipse cx="446.3" cy="669.2" rx="16.5" ry="15.0" fill="url(#g17)" stroke="#2b2a26" stroke-width="0.6"/>
<ellipse cx="375.0" cy="676.8" rx="8.4" ry="8.4" fill="url(#g18)" stroke="#2b2a26" stroke-width="0.6"/>
<ellipse cx="361.4" cy="691.1" rx="11.4" ry="9.0" fill="url(#g17)" stroke="#2b2a26" stroke-width="0.6"/>
<ellipse cx="385.6" cy="691.1" rx="10.5" ry="9.0" fill="url(#g18)" stroke="#2b2a26" stroke-width="0.6"/>
<ellipse cx="314.3" cy="692.6" rx="11.4" ry="8.4" fill="url(#g18)" stroke="#2b2a26" stroke-width="0.6"/>
<ellipse cx="273.4" cy="695.0" rx="12.6" ry="7.5" fill="url(#g18)" stroke="#2b2a26" stroke-width="0.6"/>
<ellipse cx="334.1" cy="684.4" rx="7.5" ry="8.4" fill="url(#g19)" stroke="#2b2a26" stroke-width="0.6"/>
<ellipse cx="440.2" cy="692.0" rx="12.0" ry="8.4" fill="url(#g18)" stroke="#2b2a26" stroke-width="0.6"/>
<ellipse cx="406.9" cy="695.0" rx="9.0" ry="6.0" fill="url(#g18)" stroke="#2b2a26" stroke-width="0.6"/>
<ellipse cx="368.9" cy="634.3" rx="5.4" ry="6.6" fill="url(#g18)" stroke="#2b2a26" stroke-width="0.6"/>
<ellipse cx="403.8" cy="649.5" rx="6.0" ry="6.0" fill="url(#g18)" stroke="#2b2a26" stroke-width="0.6"/>
<ellipse cx="452.4" cy="575.2" rx="6.6" ry="6.0" fill="url(#g17)" stroke="#2b2a26" stroke-width="0.6"/>
<ellipse cx="255.2" cy="631.3" rx="3.6" ry="9.0" fill="url(#g18)" stroke="#2b2a26" stroke-width="0.6"/>
</g>
<rect x="254.5" y="571.0" width="203.3" height="127.5" filter="url(#blotch)" opacity="0.25" style="mix-blend-mode:soft-light"/>
<rect x="254.5" y="571.0" width="203.3" height="127.5" filter="url(#grainL)" opacity="0.25" style="mix-blend-mode:soft-light"/>
<rect x="433.3" y="692" width="22.1" height="4.5" fill="#fff"/>
</g>
</svg>
</body></html>
